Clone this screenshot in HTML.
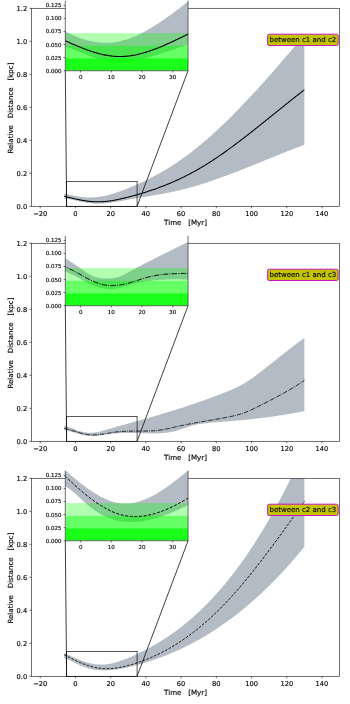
<!DOCTYPE html>
<html><head><meta charset="utf-8"><title>Relative distance</title>
<style>svg text{stroke:#000;stroke-width:0.14px}html,body{margin:0;padding:0;background:#fff}body{width:350px;height:704px;overflow:hidden}</style>
</head><body>
<svg width="350" height="704" viewBox="0 0 350 704" style="display:block;font-family:'DejaVu Sans','Liberation Sans',sans-serif">
<rect width="350" height="704" fill="#fff"/>
<defs>
<clipPath id="cm"><rect x="31.4" y="8.3" width="308.20000000000005" height="198.0"/></clipPath>
<clipPath id="ci"><rect x="65.3" y="0.77" width="122.75000000000001" height="69.98"/></clipPath>
</defs>
<g transform="translate(0,0)">
<g clip-path="url(#cm)">
<path d="M64.33,193.19 L65.04,193.41 L65.75,193.63 L66.45,193.84 L67.16,194.05 L67.86,194.25 L68.57,194.45 L69.28,194.64 L69.98,194.82 L70.69,195.00 L71.39,195.17 L72.10,195.34 L72.81,195.50 L73.51,195.66 L74.22,195.81 L74.92,195.95 L75.63,196.09 L76.34,196.22 L77.04,196.34 L77.75,196.46 L78.45,196.57 L79.16,196.68 L79.87,196.78 L80.57,196.87 L81.28,196.96 L81.98,197.04 L82.69,197.11 L83.40,197.18 L84.10,197.24 L84.81,197.29 L85.51,197.34 L86.22,197.38 L86.93,197.41 L87.63,197.44 L88.34,197.46 L89.04,197.47 L89.75,197.47 L90.46,197.47 L91.16,197.46 L91.87,197.45 L92.57,197.42 L93.28,197.39 L93.99,197.35 L94.69,197.31 L95.40,197.25 L96.10,197.19 L96.81,197.12 L97.52,197.05 L98.22,196.97 L98.93,196.87 L99.63,196.78 L100.34,196.67 L101.05,196.56 L101.75,196.44 L102.46,196.31 L103.16,196.18 L103.87,196.04 L104.58,195.89 L105.28,195.74 L105.99,195.58 L106.69,195.41 L107.40,195.24 L108.11,195.06 L108.81,194.88 L109.52,194.69 L110.22,194.50 L110.93,194.30 L111.64,194.09 L112.34,193.88 L113.05,193.67 L113.75,193.45 L114.46,193.23 L115.17,193.00 L115.87,192.77 L116.58,192.53 L117.28,192.29 L117.99,192.05 L118.70,191.80 L119.40,191.55 L120.11,191.30 L120.81,191.04 L121.52,190.78 L122.23,190.52 L122.93,190.25 L123.64,189.98 L124.34,189.71 L125.05,189.43 L125.76,189.16 L126.46,188.88 L127.17,188.60 L127.87,188.32 L128.58,188.03 L129.29,187.74 L129.99,187.45 L130.70,187.16 L131.40,186.87 L132.11,186.57 L132.82,186.28 L133.52,185.98 L134.23,185.68 L134.93,185.37 L135.64,185.06 L136.35,184.76 L137.05,184.44 L137.76,184.13 L138.46,183.82 L139.17,183.50 L139.88,183.18 L140.58,182.85 L141.29,182.53 L141.99,182.20 L142.70,181.87 L143.41,181.54 L144.11,181.20 L144.82,180.87 L145.52,180.53 L146.23,180.18 L146.94,179.84 L147.64,179.49 L148.35,179.14 L149.05,178.79 L149.76,178.43 L150.47,178.07 L151.17,177.71 L151.88,177.35 L152.58,176.98 L153.29,176.61 L154.00,176.24 L154.70,175.86 L155.41,175.49 L156.11,175.11 L156.82,174.72 L157.53,174.34 L158.23,173.95 L158.94,173.56 L159.64,173.16 L160.35,172.76 L161.06,172.36 L161.76,171.96 L162.47,171.55 L163.17,171.14 L163.88,170.73 L164.59,170.31 L165.29,169.90 L166.00,169.47 L166.70,169.05 L167.41,168.62 L168.12,168.19 L168.82,167.75 L169.53,167.32 L170.24,166.88 L170.94,166.43 L171.65,165.98 L172.35,165.53 L173.06,165.08 L173.77,164.62 L174.47,164.16 L175.18,163.70 L175.88,163.23 L176.59,162.76 L177.30,162.28 L178.00,161.81 L178.71,161.33 L179.41,160.84 L180.12,160.35 L180.83,159.86 L181.53,159.37 L182.24,158.87 L182.94,158.37 L183.65,157.86 L184.36,157.35 L185.06,156.84 L185.77,156.32 L186.47,155.80 L187.18,155.28 L187.89,154.75 L188.59,154.22 L189.30,153.69 L190.00,153.15 L190.71,152.61 L191.42,152.07 L192.12,151.52 L192.83,150.97 L193.53,150.41 L194.24,149.86 L194.95,149.30 L195.65,148.73 L196.36,148.17 L197.06,147.60 L197.77,147.02 L198.48,146.45 L199.18,145.87 L199.89,145.29 L200.59,144.70 L201.30,144.11 L202.01,143.52 L202.71,142.92 L203.42,142.33 L204.12,141.72 L204.83,141.12 L205.54,140.51 L206.24,139.90 L206.95,139.29 L207.65,138.67 L208.36,138.06 L209.07,137.43 L209.77,136.81 L210.48,136.18 L211.18,135.55 L211.89,134.92 L212.60,134.28 L213.30,133.65 L214.01,133.00 L214.71,132.36 L215.42,131.71 L216.13,131.06 L216.83,130.41 L217.54,129.76 L218.24,129.10 L218.95,128.44 L219.66,127.78 L220.36,127.11 L221.07,126.44 L221.77,125.77 L222.48,125.10 L223.19,124.43 L223.89,123.75 L224.60,123.07 L225.30,122.39 L226.01,121.70 L226.72,121.01 L227.42,120.32 L228.13,119.63 L228.83,118.94 L229.54,118.24 L230.25,117.54 L230.95,116.84 L231.66,116.13 L232.36,115.43 L233.07,114.72 L233.78,114.01 L234.48,113.30 L235.19,112.58 L235.89,111.86 L236.60,111.15 L237.31,110.42 L238.01,109.70 L238.72,108.98 L239.42,108.25 L240.13,107.52 L240.84,106.79 L241.54,106.05 L242.25,105.32 L242.95,104.58 L243.66,103.84 L244.37,103.10 L245.07,102.35 L245.78,101.61 L246.48,100.86 L247.19,100.11 L247.90,99.36 L248.60,98.61 L249.31,97.85 L250.01,97.10 L250.72,96.34 L251.43,95.58 L252.13,94.82 L252.84,94.06 L253.54,93.29 L254.25,92.52 L254.96,91.76 L255.66,90.99 L256.37,90.21 L257.07,89.44 L257.78,88.67 L258.49,87.89 L259.19,87.11 L259.90,86.33 L260.60,85.55 L261.31,84.77 L262.02,83.99 L262.72,83.20 L263.43,82.41 L264.13,81.63 L264.84,80.84 L265.55,80.05 L266.25,79.25 L266.96,78.46 L267.66,77.67 L268.37,76.87 L269.08,76.07 L269.78,75.27 L270.49,74.47 L271.19,73.67 L271.90,72.87 L272.61,72.07 L273.31,71.26 L274.02,70.46 L274.72,69.65 L275.43,68.84 L276.14,68.03 L276.84,67.22 L277.55,66.41 L278.25,65.60 L278.96,64.79 L279.67,63.97 L280.37,63.16 L281.08,62.34 L281.78,61.53 L282.49,60.71 L283.20,59.89 L283.90,59.07 L284.61,58.25 L285.31,57.43 L286.02,56.61 L286.73,55.78 L287.43,54.96 L288.14,54.14 L288.84,53.31 L289.55,52.49 L290.26,51.66 L290.96,50.83 L291.67,50.00 L292.37,49.18 L293.08,48.35 L293.79,47.52 L294.49,46.69 L295.20,45.86 L295.91,45.02 L296.61,44.19 L297.32,43.36 L298.02,42.53 L298.73,41.69 L299.44,40.86 L300.14,40.03 L300.85,39.19 L301.55,38.36 L302.26,37.52 L302.97,36.68 L303.67,35.85 L304.38,35.01 L304.38,144.82 L303.67,145.08 L302.97,145.34 L302.26,145.60 L301.55,145.86 L300.85,146.13 L300.14,146.39 L299.44,146.66 L298.73,146.93 L298.02,147.19 L297.32,147.46 L296.61,147.73 L295.91,148.00 L295.20,148.27 L294.49,148.54 L293.79,148.82 L293.08,149.09 L292.37,149.36 L291.67,149.64 L290.96,149.91 L290.26,150.19 L289.55,150.46 L288.84,150.74 L288.14,151.02 L287.43,151.30 L286.73,151.58 L286.02,151.86 L285.31,152.14 L284.61,152.42 L283.90,152.70 L283.20,152.98 L282.49,153.26 L281.78,153.54 L281.08,153.82 L280.37,154.11 L279.67,154.39 L278.96,154.67 L278.25,154.96 L277.55,155.24 L276.84,155.53 L276.14,155.81 L275.43,156.10 L274.72,156.38 L274.02,156.67 L273.31,156.96 L272.61,157.24 L271.90,157.53 L271.19,157.82 L270.49,158.10 L269.78,158.39 L269.08,158.68 L268.37,158.96 L267.66,159.25 L266.96,159.54 L266.25,159.83 L265.55,160.11 L264.84,160.40 L264.13,160.69 L263.43,160.98 L262.72,161.26 L262.02,161.55 L261.31,161.84 L260.60,162.13 L259.90,162.41 L259.19,162.70 L258.49,162.99 L257.78,163.28 L257.07,163.56 L256.37,163.85 L255.66,164.14 L254.96,164.42 L254.25,164.71 L253.54,164.99 L252.84,165.28 L252.13,165.57 L251.43,165.85 L250.72,166.13 L250.01,166.42 L249.31,166.70 L248.60,166.99 L247.90,167.27 L247.19,167.55 L246.48,167.84 L245.78,168.12 L245.07,168.40 L244.37,168.68 L243.66,168.96 L242.95,169.24 L242.25,169.52 L241.54,169.80 L240.84,170.08 L240.13,170.36 L239.42,170.63 L238.72,170.91 L238.01,171.19 L237.31,171.46 L236.60,171.74 L235.89,172.01 L235.19,172.29 L234.48,172.56 L233.78,172.83 L233.07,173.10 L232.36,173.37 L231.66,173.64 L230.95,173.91 L230.25,174.18 L229.54,174.45 L228.83,174.71 L228.13,174.98 L227.42,175.24 L226.72,175.51 L226.01,175.77 L225.30,176.03 L224.60,176.29 L223.89,176.55 L223.19,176.81 L222.48,177.07 L221.77,177.33 L221.07,177.59 L220.36,177.84 L219.66,178.10 L218.95,178.35 L218.24,178.60 L217.54,178.85 L216.83,179.10 L216.13,179.35 L215.42,179.60 L214.71,179.84 L214.01,180.09 L213.30,180.33 L212.60,180.57 L211.89,180.82 L211.18,181.06 L210.48,181.30 L209.77,181.53 L209.07,181.77 L208.36,182.00 L207.65,182.24 L206.95,182.47 L206.24,182.70 L205.54,182.93 L204.83,183.16 L204.12,183.38 L203.42,183.61 L202.71,183.83 L202.01,184.05 L201.30,184.28 L200.59,184.49 L199.89,184.71 L199.18,184.93 L198.48,185.14 L197.77,185.35 L197.06,185.57 L196.36,185.78 L195.65,185.98 L194.95,186.19 L194.24,186.39 L193.53,186.60 L192.83,186.80 L192.12,187.00 L191.42,187.20 L190.71,187.39 L190.00,187.59 L189.30,187.78 L188.59,187.97 L187.89,188.16 L187.18,188.34 L186.47,188.53 L185.77,188.71 L185.06,188.89 L184.36,189.07 L183.65,189.25 L182.94,189.43 L182.24,189.60 L181.53,189.77 L180.83,189.94 L180.12,190.11 L179.41,190.27 L178.71,190.44 L178.00,190.60 L177.30,190.76 L176.59,190.92 L175.88,191.08 L175.18,191.23 L174.47,191.39 L173.77,191.54 L173.06,191.69 L172.35,191.84 L171.65,191.99 L170.94,192.13 L170.24,192.28 L169.53,192.42 L168.82,192.56 L168.12,192.70 L167.41,192.84 L166.70,192.98 L166.00,193.12 L165.29,193.26 L164.59,193.39 L163.88,193.52 L163.17,193.66 L162.47,193.79 L161.76,193.92 L161.06,194.05 L160.35,194.18 L159.64,194.31 L158.94,194.43 L158.23,194.56 L157.53,194.69 L156.82,194.81 L156.11,194.94 L155.41,195.06 L154.70,195.18 L154.00,195.31 L153.29,195.43 L152.58,195.55 L151.88,195.67 L151.17,195.79 L150.47,195.91 L149.76,196.03 L149.05,196.15 L148.35,196.27 L147.64,196.39 L146.94,196.50 L146.23,196.62 L145.52,196.74 L144.82,196.86 L144.11,196.98 L143.41,197.09 L142.70,197.21 L141.99,197.33 L141.29,197.45 L140.58,197.56 L139.88,197.68 L139.17,197.80 L138.46,197.92 L137.76,198.04 L137.05,198.16 L136.35,198.27 L135.64,198.39 L134.93,198.51 L134.23,198.63 L133.52,198.75 L132.82,198.87 L132.11,199.00 L131.40,199.12 L130.70,199.24 L129.99,199.36 L129.29,199.49 L128.58,199.61 L127.87,199.74 L127.17,199.86 L126.46,199.99 L125.76,200.12 L125.05,200.24 L124.34,200.37 L123.64,200.50 L122.93,200.63 L122.23,200.76 L121.52,200.89 L120.81,201.01 L120.11,201.14 L119.40,201.27 L118.70,201.39 L117.99,201.51 L117.28,201.64 L116.58,201.76 L115.87,201.87 L115.17,201.99 L114.46,202.10 L113.75,202.22 L113.05,202.32 L112.34,202.43 L111.64,202.53 L110.93,202.63 L110.22,202.73 L109.52,202.82 L108.81,202.91 L108.11,202.99 L107.40,203.07 L106.69,203.14 L105.99,203.22 L105.28,203.28 L104.58,203.34 L103.87,203.40 L103.16,203.45 L102.46,203.49 L101.75,203.53 L101.05,203.56 L100.34,203.59 L99.63,203.61 L98.93,203.62 L98.22,203.63 L97.52,203.63 L96.81,203.62 L96.10,203.60 L95.40,203.58 L94.69,203.55 L93.99,203.52 L93.28,203.48 L92.57,203.43 L91.87,203.37 L91.16,203.31 L90.46,203.24 L89.75,203.17 L89.04,203.09 L88.34,203.00 L87.63,202.91 L86.93,202.81 L86.22,202.70 L85.51,202.59 L84.81,202.48 L84.10,202.35 L83.40,202.23 L82.69,202.09 L81.98,201.95 L81.28,201.81 L80.57,201.66 L79.87,201.50 L79.16,201.34 L78.45,201.18 L77.75,201.01 L77.04,200.85 L76.34,200.68 L75.63,200.51 L74.92,200.35 L74.22,200.18 L73.51,200.02 L72.81,199.87 L72.10,199.72 L71.39,199.57 L70.69,199.44 L69.98,199.31 L69.28,199.19 L68.57,199.07 L67.86,198.97 L67.16,198.89 L66.45,198.81 L65.75,198.75 L65.04,198.70 L64.33,198.67Z" fill="#b3bcc4"/>
<path d="M64.33,196.27 L65.04,196.45 L65.75,196.63 L66.45,196.81 L67.16,196.98 L67.86,197.16 L68.57,197.33 L69.28,197.50 L69.98,197.68 L70.69,197.85 L71.39,198.01 L72.10,198.18 L72.81,198.35 L73.51,198.51 L74.22,198.67 L74.92,198.83 L75.63,198.98 L76.34,199.14 L77.04,199.29 L77.75,199.44 L78.45,199.58 L79.16,199.72 L79.87,199.86 L80.57,199.99 L81.28,200.13 L81.98,200.25 L82.69,200.38 L83.40,200.50 L84.10,200.61 L84.81,200.72 L85.51,200.83 L86.22,200.93 L86.93,201.03 L87.63,201.12 L88.34,201.21 L89.04,201.29 L89.75,201.36 L90.46,201.43 L91.16,201.50 L91.87,201.56 L92.57,201.61 L93.28,201.66 L93.99,201.70 L94.69,201.74 L95.40,201.77 L96.10,201.79 L96.81,201.80 L97.52,201.81 L98.22,201.81 L98.93,201.81 L99.63,201.79 L100.34,201.77 L101.05,201.75 L101.75,201.71 L102.46,201.68 L103.16,201.63 L103.87,201.58 L104.58,201.52 L105.28,201.46 L105.99,201.39 L106.69,201.31 L107.40,201.23 L108.11,201.15 L108.81,201.06 L109.52,200.96 L110.22,200.86 L110.93,200.76 L111.64,200.65 L112.34,200.53 L113.05,200.42 L113.75,200.29 L114.46,200.17 L115.17,200.04 L115.87,199.90 L116.58,199.76 L117.28,199.62 L117.99,199.48 L118.70,199.33 L119.40,199.18 L120.11,199.02 L120.81,198.87 L121.52,198.71 L122.23,198.55 L122.93,198.38 L123.64,198.22 L124.34,198.05 L125.05,197.88 L125.76,197.70 L126.46,197.53 L127.17,197.35 L127.87,197.18 L128.58,197.00 L129.29,196.82 L129.99,196.63 L130.70,196.45 L131.40,196.27 L132.11,196.08 L132.82,195.89 L133.52,195.70 L134.23,195.51 L134.93,195.31 L135.64,195.12 L136.35,194.92 L137.05,194.72 L137.76,194.52 L138.46,194.32 L139.17,194.11 L139.88,193.91 L140.58,193.70 L141.29,193.49 L141.99,193.28 L142.70,193.06 L143.41,192.85 L144.11,192.63 L144.82,192.41 L145.52,192.19 L146.23,191.97 L146.94,191.74 L147.64,191.52 L148.35,191.29 L149.05,191.06 L149.76,190.82 L150.47,190.59 L151.17,190.35 L151.88,190.11 L152.58,189.87 L153.29,189.63 L154.00,189.38 L154.70,189.14 L155.41,188.89 L156.11,188.64 L156.82,188.38 L157.53,188.13 L158.23,187.87 L158.94,187.61 L159.64,187.35 L160.35,187.08 L161.06,186.81 L161.76,186.55 L162.47,186.27 L163.17,186.00 L163.88,185.72 L164.59,185.45 L165.29,185.17 L166.00,184.88 L166.70,184.60 L167.41,184.31 L168.12,184.02 L168.82,183.73 L169.53,183.43 L170.24,183.14 L170.94,182.84 L171.65,182.54 L172.35,182.23 L173.06,181.92 L173.77,181.61 L174.47,181.30 L175.18,180.99 L175.88,180.67 L176.59,180.35 L177.30,180.03 L178.00,179.71 L178.71,179.38 L179.41,179.05 L180.12,178.72 L180.83,178.38 L181.53,178.04 L182.24,177.70 L182.94,177.36 L183.65,177.02 L184.36,176.67 L185.06,176.32 L185.77,175.96 L186.47,175.61 L187.18,175.25 L187.89,174.89 L188.59,174.52 L189.30,174.15 L190.00,173.78 L190.71,173.41 L191.42,173.03 L192.12,172.66 L192.83,172.27 L193.53,171.89 L194.24,171.50 L194.95,171.11 L195.65,170.72 L196.36,170.32 L197.06,169.92 L197.77,169.52 L198.48,169.12 L199.18,168.71 L199.89,168.30 L200.59,167.88 L201.30,167.47 L202.01,167.05 L202.71,166.62 L203.42,166.20 L204.12,165.77 L204.83,165.34 L205.54,164.90 L206.24,164.47 L206.95,164.03 L207.65,163.58 L208.36,163.14 L209.07,162.69 L209.77,162.24 L210.48,161.79 L211.18,161.33 L211.89,160.87 L212.60,160.41 L213.30,159.95 L214.01,159.48 L214.71,159.02 L215.42,158.54 L216.13,158.07 L216.83,157.60 L217.54,157.12 L218.24,156.64 L218.95,156.16 L219.66,155.67 L220.36,155.19 L221.07,154.70 L221.77,154.21 L222.48,153.71 L223.19,153.22 L223.89,152.72 L224.60,152.22 L225.30,151.72 L226.01,151.22 L226.72,150.71 L227.42,150.20 L228.13,149.69 L228.83,149.18 L229.54,148.67 L230.25,148.16 L230.95,147.64 L231.66,147.12 L232.36,146.60 L233.07,146.08 L233.78,145.56 L234.48,145.03 L235.19,144.50 L235.89,143.98 L236.60,143.45 L237.31,142.92 L238.01,142.38 L238.72,141.85 L239.42,141.31 L240.13,140.78 L240.84,140.24 L241.54,139.70 L242.25,139.16 L242.95,138.62 L243.66,138.07 L244.37,137.53 L245.07,136.98 L245.78,136.44 L246.48,135.89 L247.19,135.34 L247.90,134.79 L248.60,134.24 L249.31,133.69 L250.01,133.13 L250.72,132.58 L251.43,132.02 L252.13,131.47 L252.84,130.91 L253.54,130.35 L254.25,129.79 L254.96,129.23 L255.66,128.67 L256.37,128.11 L257.07,127.55 L257.78,126.99 L258.49,126.42 L259.19,125.86 L259.90,125.30 L260.60,124.73 L261.31,124.17 L262.02,123.60 L262.72,123.03 L263.43,122.47 L264.13,121.90 L264.84,121.33 L265.55,120.77 L266.25,120.20 L266.96,119.63 L267.66,119.06 L268.37,118.49 L269.08,117.92 L269.78,117.35 L270.49,116.78 L271.19,116.21 L271.90,115.64 L272.61,115.07 L273.31,114.50 L274.02,113.93 L274.72,113.36 L275.43,112.79 L276.14,112.22 L276.84,111.65 L277.55,111.09 L278.25,110.52 L278.96,109.95 L279.67,109.38 L280.37,108.81 L281.08,108.24 L281.78,107.67 L282.49,107.11 L283.20,106.54 L283.90,105.97 L284.61,105.40 L285.31,104.84 L286.02,104.27 L286.73,103.71 L287.43,103.14 L288.14,102.58 L288.84,102.02 L289.55,101.45 L290.26,100.89 L290.96,100.33 L291.67,99.77 L292.37,99.21 L293.08,98.65 L293.79,98.09 L294.49,97.53 L295.20,96.98 L295.91,96.42 L296.61,95.87 L297.32,95.31 L298.02,94.76 L298.73,94.21 L299.44,93.66 L300.14,93.11 L300.85,92.56 L301.55,92.01 L302.26,91.46 L302.97,90.92 L303.67,90.37 L304.38,89.83" fill="none" stroke="#000" stroke-width="1.05"/>
</g>
<rect x="31.4" y="8.3" width="308.20000000000005" height="198.0" fill="none" stroke="#222" stroke-width="0.65"/>
<line x1="40.21" x2="40.21" y1="206.3" y2="208.3" stroke="#222" stroke-width="0.65"/>
<text x="40.21" y="215.60" font-size="6.7" text-anchor="middle" fill="#000">−20</text>
<line x1="75.43" x2="75.43" y1="206.3" y2="208.3" stroke="#222" stroke-width="0.65"/>
<text x="75.43" y="215.60" font-size="6.7" text-anchor="middle" fill="#000">0</text>
<line x1="110.65" x2="110.65" y1="206.3" y2="208.3" stroke="#222" stroke-width="0.65"/>
<text x="110.65" y="215.60" font-size="6.7" text-anchor="middle" fill="#000">20</text>
<line x1="145.87" x2="145.87" y1="206.3" y2="208.3" stroke="#222" stroke-width="0.65"/>
<text x="145.87" y="215.60" font-size="6.7" text-anchor="middle" fill="#000">40</text>
<line x1="181.10" x2="181.10" y1="206.3" y2="208.3" stroke="#222" stroke-width="0.65"/>
<text x="181.10" y="215.60" font-size="6.7" text-anchor="middle" fill="#000">60</text>
<line x1="216.32" x2="216.32" y1="206.3" y2="208.3" stroke="#222" stroke-width="0.65"/>
<text x="216.32" y="215.60" font-size="6.7" text-anchor="middle" fill="#000">80</text>
<line x1="251.54" x2="251.54" y1="206.3" y2="208.3" stroke="#222" stroke-width="0.65"/>
<text x="251.54" y="215.60" font-size="6.7" text-anchor="middle" fill="#000">100</text>
<line x1="286.77" x2="286.77" y1="206.3" y2="208.3" stroke="#222" stroke-width="0.65"/>
<text x="286.77" y="215.60" font-size="6.7" text-anchor="middle" fill="#000">120</text>
<line x1="321.99" x2="321.99" y1="206.3" y2="208.3" stroke="#222" stroke-width="0.65"/>
<text x="321.99" y="215.60" font-size="6.7" text-anchor="middle" fill="#000">140</text>
<line x1="29.4" x2="31.4" y1="206.30" y2="206.30" stroke="#222" stroke-width="0.65"/>
<text x="27.20" y="208.75" font-size="6.7" text-anchor="end" fill="#000">0.0</text>
<line x1="29.4" x2="31.4" y1="173.30" y2="173.30" stroke="#222" stroke-width="0.65"/>
<text x="27.20" y="175.75" font-size="6.7" text-anchor="end" fill="#000">0.2</text>
<line x1="29.4" x2="31.4" y1="140.30" y2="140.30" stroke="#222" stroke-width="0.65"/>
<text x="27.20" y="142.75" font-size="6.7" text-anchor="end" fill="#000">0.4</text>
<line x1="29.4" x2="31.4" y1="107.30" y2="107.30" stroke="#222" stroke-width="0.65"/>
<text x="27.20" y="109.75" font-size="6.7" text-anchor="end" fill="#000">0.6</text>
<line x1="29.4" x2="31.4" y1="74.30" y2="74.30" stroke="#222" stroke-width="0.65"/>
<text x="27.20" y="76.75" font-size="6.7" text-anchor="end" fill="#000">0.8</text>
<line x1="29.4" x2="31.4" y1="41.30" y2="41.30" stroke="#222" stroke-width="0.65"/>
<text x="27.20" y="43.75" font-size="6.7" text-anchor="end" fill="#000">1.0</text>
<line x1="29.4" x2="31.4" y1="8.30" y2="8.30" stroke="#222" stroke-width="0.65"/>
<text x="27.20" y="10.75" font-size="6.7" text-anchor="end" fill="#000">1.2</text>
<text x="185.50" y="224.60" font-size="7.08" text-anchor="middle" fill="#000" style="white-space:pre">Time   [Myr]</text>
<text transform="translate(13.0,108.10) rotate(-90)" font-size="7.08" text-anchor="middle" fill="#000" style="white-space:pre">Relative   Distance   [kpc]</text>
<rect x="66.62" y="181.55" width="70.45" height="24.75" fill="none" stroke="#000" stroke-width="0.65"/>
<rect x="65.3" y="0.77" width="122.75000000000001" height="69.98" fill="#fff"/>
<line x1="65.3" y1="70.75" x2="66.62" y2="206.30" stroke="#000" stroke-width="0.75"/>
<line x1="188.05" y1="70.75" x2="137.07" y2="206.30" stroke="#000" stroke-width="0.75"/>
<g clip-path="url(#ci)">
<path d="M61.31,29.19 L62.54,29.90 L63.77,30.59 L65.00,31.27 L66.23,31.92 L67.46,32.56 L68.69,33.18 L69.92,33.78 L71.15,34.37 L72.38,34.93 L73.61,35.48 L74.84,36.01 L76.07,36.52 L77.30,37.01 L78.53,37.49 L79.76,37.94 L80.99,38.38 L82.22,38.79 L83.45,39.19 L84.68,39.56 L85.91,39.92 L87.14,40.25 L88.38,40.57 L89.61,40.86 L90.84,41.14 L92.07,41.39 L93.30,41.62 L94.53,41.84 L95.76,42.03 L96.99,42.20 L98.22,42.34 L99.45,42.47 L100.68,42.57 L101.91,42.66 L103.14,42.72 L104.37,42.76 L105.60,42.77 L106.83,42.77 L108.06,42.74 L109.29,42.68 L110.52,42.61 L111.75,42.51 L112.98,42.39 L114.21,42.24 L115.44,42.08 L116.67,41.88 L117.90,41.67 L119.13,41.43 L120.36,41.16 L121.59,40.87 L122.82,40.56 L124.05,40.23 L125.28,39.87 L126.51,39.49 L127.74,39.08 L128.97,38.66 L130.20,38.21 L131.43,37.75 L132.66,37.26 L133.89,36.76 L135.12,36.23 L136.35,35.69 L137.58,35.13 L138.81,34.55 L140.04,33.95 L141.27,33.34 L142.50,32.71 L143.73,32.06 L144.96,31.40 L146.19,30.72 L147.43,30.03 L148.66,29.32 L149.89,28.60 L151.12,27.87 L152.35,27.12 L153.58,26.36 L154.81,25.59 L156.04,24.80 L157.27,24.01 L158.50,23.20 L159.73,22.38 L160.96,21.56 L162.19,20.72 L163.42,19.88 L164.65,19.02 L165.88,18.16 L167.11,17.29 L168.34,16.42 L169.57,15.53 L170.80,14.64 L172.03,13.74 L173.26,12.84 L174.49,11.93 L175.72,11.02 L176.95,10.09 L178.18,9.16 L179.41,8.23 L180.64,7.28 L181.87,6.33 L183.10,5.38 L184.33,4.41 L185.56,3.44 L186.79,2.46 L188.02,1.47 L189.25,0.48 L190.48,-0.52 L191.71,-1.53 L192.94,-2.54 L194.17,-3.57 L195.40,-4.60 L196.63,-5.64 L197.86,-6.68 L199.09,-7.74 L200.32,-8.80 L201.55,-9.87 L202.78,-10.95 L204.01,-12.03 L205.24,-13.13 L206.48,-14.23 L207.71,-15.34 L208.94,-16.46 L210.17,-17.59 L211.40,-18.72 L212.63,-19.87 L213.86,-21.02 L215.09,-22.18 L216.32,-23.35 L217.55,-24.53 L218.78,-25.72 L220.01,-26.92 L221.24,-28.12 L222.47,-29.34 L223.70,-30.56 L224.93,-31.79 L226.16,-33.04 L227.39,-34.29 L228.62,-35.55 L229.85,-36.82 L231.08,-38.10 L232.31,-39.39 L233.54,-40.69 L234.77,-41.99 L236.00,-43.31 L237.23,-44.64 L238.46,-45.98 L239.69,-47.32 L240.92,-48.68 L242.15,-50.05 L243.38,-51.43 L244.61,-52.81 L245.84,-54.21 L247.07,-55.62 L248.30,-57.04 L249.53,-58.47 L250.76,-59.91 L251.99,-61.36 L253.22,-62.82 L254.45,-64.29 L255.68,-65.77 L256.91,-67.26 L258.14,-68.76 L259.37,-70.28 L260.60,-71.80 L261.83,-73.34 L263.06,-74.89 L264.29,-76.44 L265.53,-78.01 L266.76,-79.59 L267.99,-81.19 L269.22,-82.79 L270.45,-84.40 L271.68,-86.03 L272.91,-87.67 L274.14,-89.32 L275.37,-90.97 L276.60,-92.64 L277.83,-94.33 L279.06,-96.02 L280.29,-97.72 L281.52,-99.43 L282.75,-101.16 L283.98,-102.89 L285.21,-104.63 L286.44,-106.39 L287.67,-108.16 L288.90,-109.93 L290.13,-111.72 L291.36,-113.51 L292.59,-115.32 L293.82,-117.14 L295.05,-118.97 L296.28,-120.80 L297.51,-122.65 L298.74,-124.51 L299.97,-126.37 L301.20,-128.25 L302.43,-130.13 L303.66,-132.03 L304.89,-133.93 L306.12,-135.85 L307.35,-137.77 L308.58,-139.71 L309.81,-141.65 L311.04,-143.60 L312.27,-145.56 L313.50,-147.53 L314.73,-149.51 L315.96,-151.50 L317.19,-153.50 L318.42,-155.50 L319.65,-157.52 L320.88,-159.54 L322.11,-161.58 L323.34,-163.62 L324.58,-165.67 L325.81,-167.72 L327.04,-169.79 L328.27,-171.87 L329.50,-173.95 L330.73,-176.04 L331.96,-178.14 L333.19,-180.25 L334.42,-182.37 L335.65,-184.49 L336.88,-186.62 L338.11,-188.76 L339.34,-190.91 L340.57,-193.07 L341.80,-195.23 L343.03,-197.40 L344.26,-199.58 L345.49,-201.77 L346.72,-203.96 L347.95,-206.17 L349.18,-208.38 L350.41,-210.59 L351.64,-212.82 L352.87,-215.05 L354.10,-217.29 L355.33,-219.53 L356.56,-221.78 L357.79,-224.04 L359.02,-226.31 L360.25,-228.58 L361.48,-230.86 L362.71,-233.15 L363.94,-235.44 L365.17,-237.74 L366.40,-240.05 L367.63,-242.36 L368.86,-244.68 L370.09,-247.00 L371.32,-249.34 L372.55,-251.67 L373.78,-254.02 L375.01,-256.37 L376.24,-258.73 L377.47,-261.09 L378.70,-263.46 L379.93,-265.83 L381.16,-268.21 L382.39,-270.60 L383.63,-272.99 L384.86,-275.39 L386.09,-277.79 L387.32,-280.20 L388.55,-282.61 L389.78,-285.03 L391.01,-287.46 L392.24,-289.89 L393.47,-292.32 L394.70,-294.76 L395.93,-297.21 L397.16,-299.66 L398.39,-302.11 L399.62,-304.57 L400.85,-307.04 L402.08,-309.51 L403.31,-311.98 L404.54,-314.46 L405.77,-316.95 L407.00,-319.44 L408.23,-321.93 L409.46,-324.43 L410.69,-326.93 L411.92,-329.44 L413.15,-331.95 L414.38,-334.46 L415.61,-336.98 L416.84,-339.50 L418.07,-342.03 L419.30,-344.56 L420.53,-347.10 L421.76,-349.64 L422.99,-352.18 L424.22,-354.72 L425.45,-357.27 L426.68,-359.83 L427.91,-362.38 L429.14,-364.95 L430.37,-367.51 L431.60,-370.08 L432.83,-372.65 L434.06,-375.22 L435.29,-377.80 L436.52,-380.38 L437.75,-382.96 L438.98,-385.55 L440.21,-388.14 L441.44,-390.73 L442.68,-393.32 L443.91,-395.92 L445.14,-398.52 L446.37,-401.13 L447.60,-403.73 L448.83,-406.34 L450.06,-408.95 L451.29,-411.56 L452.52,-414.18 L453.75,-416.80 L454.98,-419.41 L456.21,-422.04 L457.44,-424.66 L458.67,-427.29 L459.90,-429.91 L461.13,-432.54 L462.36,-435.18 L463.59,-437.81 L464.82,-440.45 L466.05,-443.08 L467.28,-445.72 L468.51,-448.36 L469.74,-451.00 L470.97,-453.65 L472.20,-456.29 L473.43,-458.94 L474.66,-461.58 L475.89,-464.23 L477.12,-466.88 L478.35,-469.53 L479.58,-472.18 L479.58,-124.14 L478.35,-123.31 L477.12,-122.48 L475.89,-121.65 L474.66,-120.82 L473.43,-119.98 L472.20,-119.14 L470.97,-118.29 L469.74,-117.45 L468.51,-116.60 L467.28,-115.75 L466.05,-114.90 L464.82,-114.04 L463.59,-113.18 L462.36,-112.32 L461.13,-111.46 L459.90,-110.59 L458.67,-109.72 L457.44,-108.85 L456.21,-107.98 L454.98,-107.11 L453.75,-106.23 L452.52,-105.35 L451.29,-104.47 L450.06,-103.59 L448.83,-102.71 L447.60,-101.82 L446.37,-100.94 L445.14,-100.05 L443.91,-99.16 L442.68,-98.27 L441.44,-97.37 L440.21,-96.48 L438.98,-95.58 L437.75,-94.69 L436.52,-93.79 L435.29,-92.89 L434.06,-91.99 L432.83,-91.09 L431.60,-90.18 L430.37,-89.28 L429.14,-88.37 L427.91,-87.47 L426.68,-86.56 L425.45,-85.66 L424.22,-84.75 L422.99,-83.84 L421.76,-82.93 L420.53,-82.02 L419.30,-81.11 L418.07,-80.20 L416.84,-79.29 L415.61,-78.38 L414.38,-77.47 L413.15,-76.56 L411.92,-75.65 L410.69,-74.73 L409.46,-73.82 L408.23,-72.91 L407.00,-72.00 L405.77,-71.09 L404.54,-70.18 L403.31,-69.26 L402.08,-68.35 L400.85,-67.44 L399.62,-66.53 L398.39,-65.62 L397.16,-64.71 L395.93,-63.80 L394.70,-62.90 L393.47,-61.99 L392.24,-61.08 L391.01,-60.18 L389.78,-59.27 L388.55,-58.37 L387.32,-57.46 L386.09,-56.56 L384.86,-55.66 L383.63,-54.76 L382.39,-53.86 L381.16,-52.96 L379.93,-52.07 L378.70,-51.17 L377.47,-50.28 L376.24,-49.38 L375.01,-48.49 L373.78,-47.60 L372.55,-46.72 L371.32,-45.83 L370.09,-44.94 L368.86,-44.06 L367.63,-43.18 L366.40,-42.30 L365.17,-41.42 L363.94,-40.55 L362.71,-39.67 L361.48,-38.80 L360.25,-37.93 L359.02,-37.07 L357.79,-36.20 L356.56,-35.34 L355.33,-34.48 L354.10,-33.62 L352.87,-32.77 L351.64,-31.91 L350.41,-31.06 L349.18,-30.21 L347.95,-29.37 L346.72,-28.53 L345.49,-27.69 L344.26,-26.85 L343.03,-26.02 L341.80,-25.19 L340.57,-24.36 L339.34,-23.53 L338.11,-22.71 L336.88,-21.89 L335.65,-21.08 L334.42,-20.26 L333.19,-19.46 L331.96,-18.65 L330.73,-17.85 L329.50,-17.05 L328.27,-16.25 L327.04,-15.46 L325.81,-14.67 L324.58,-13.89 L323.34,-13.11 L322.11,-12.33 L320.88,-11.56 L319.65,-10.79 L318.42,-10.03 L317.19,-9.26 L315.96,-8.51 L314.73,-7.76 L313.50,-7.01 L312.27,-6.26 L311.04,-5.52 L309.81,-4.79 L308.58,-4.05 L307.35,-3.33 L306.12,-2.61 L304.89,-1.89 L303.66,-1.17 L302.43,-0.47 L301.20,0.24 L299.97,0.94 L298.74,1.63 L297.51,2.32 L296.28,3.01 L295.05,3.69 L293.82,4.36 L292.59,5.03 L291.36,5.69 L290.13,6.35 L288.90,7.01 L287.67,7.66 L286.44,8.30 L285.21,8.94 L283.98,9.57 L282.75,10.20 L281.52,10.82 L280.29,11.43 L279.06,12.04 L277.83,12.65 L276.60,13.24 L275.37,13.84 L274.14,14.42 L272.91,15.00 L271.68,15.58 L270.45,16.15 L269.22,16.71 L267.99,17.27 L266.76,17.82 L265.53,18.36 L264.29,18.90 L263.06,19.43 L261.83,19.95 L260.60,20.47 L259.37,20.99 L258.14,21.50 L256.91,22.00 L255.68,22.50 L254.45,22.99 L253.22,23.48 L251.99,23.96 L250.76,24.44 L249.53,24.91 L248.30,25.38 L247.07,25.84 L245.84,26.30 L244.61,26.76 L243.38,27.21 L242.15,27.66 L240.92,28.10 L239.69,28.54 L238.46,28.97 L237.23,29.40 L236.00,29.83 L234.77,30.26 L233.54,30.68 L232.31,31.10 L231.08,31.51 L229.85,31.92 L228.62,32.33 L227.39,32.74 L226.16,33.14 L224.93,33.54 L223.70,33.94 L222.47,34.34 L221.24,34.73 L220.01,35.12 L218.78,35.51 L217.55,35.90 L216.32,36.29 L215.09,36.67 L213.86,37.05 L212.63,37.43 L211.40,37.81 L210.17,38.19 L208.94,38.57 L207.71,38.95 L206.48,39.32 L205.24,39.70 L204.01,40.07 L202.78,40.45 L201.55,40.82 L200.32,41.20 L199.09,41.57 L197.86,41.94 L196.63,42.31 L195.40,42.69 L194.17,43.06 L192.94,43.43 L191.71,43.81 L190.48,44.18 L189.25,44.56 L188.02,44.93 L186.79,45.31 L185.56,45.69 L184.33,46.07 L183.10,46.45 L181.87,46.83 L180.64,47.21 L179.41,47.60 L178.18,47.99 L176.95,48.37 L175.72,48.76 L174.49,49.16 L173.26,49.55 L172.03,49.95 L170.80,50.35 L169.57,50.75 L168.34,51.15 L167.11,51.56 L165.88,51.96 L164.65,52.37 L163.42,52.78 L162.19,53.19 L160.96,53.59 L159.73,54.00 L158.50,54.40 L157.27,54.80 L156.04,55.19 L154.81,55.58 L153.58,55.97 L152.35,56.35 L151.12,56.72 L149.89,57.09 L148.66,57.45 L147.43,57.80 L146.19,58.15 L144.96,58.48 L143.73,58.81 L142.50,59.12 L141.27,59.42 L140.04,59.71 L138.81,59.99 L137.58,60.26 L136.35,60.51 L135.12,60.75 L133.89,60.97 L132.66,61.18 L131.43,61.37 L130.20,61.55 L128.97,61.71 L127.74,61.85 L126.51,61.97 L125.28,62.07 L124.05,62.15 L122.82,62.22 L121.59,62.26 L120.36,62.28 L119.13,62.28 L117.90,62.25 L116.67,62.21 L115.44,62.14 L114.21,62.05 L112.98,61.94 L111.75,61.80 L110.52,61.65 L109.29,61.47 L108.06,61.28 L106.83,61.06 L105.60,60.83 L104.37,60.57 L103.14,60.30 L101.91,60.00 L100.68,59.69 L99.45,59.35 L98.22,59.00 L96.99,58.63 L95.76,58.24 L94.53,57.84 L93.30,57.41 L92.07,56.97 L90.84,56.51 L89.61,56.03 L88.38,55.54 L87.14,55.03 L85.91,54.52 L84.68,53.99 L83.45,53.46 L82.22,52.93 L80.99,52.40 L79.76,51.88 L78.53,51.36 L77.30,50.86 L76.07,50.36 L74.84,49.89 L73.61,49.43 L72.38,48.99 L71.15,48.58 L69.92,48.20 L68.69,47.85 L67.46,47.53 L66.23,47.25 L65.00,47.01 L63.77,46.81 L62.54,46.66 L61.31,46.56Z" fill="#b3bcc4"/>
<rect x="65.3" y="33.09" width="122.75000000000001" height="12.55" fill="#00ff00" fill-opacity="0.3"/>
<rect x="65.3" y="45.65" width="122.75000000000001" height="12.55" fill="#00ff00" fill-opacity="0.6"/>
<rect x="65.3" y="58.20" width="122.75000000000001" height="12.55" fill="#00ff00" fill-opacity="0.9"/>
<path d="M61.31,38.97 L62.54,39.53 L63.77,40.10 L65.00,40.66 L66.23,41.21 L67.46,41.77 L68.69,42.32 L69.92,42.87 L71.15,43.41 L72.38,43.95 L73.61,44.49 L74.84,45.02 L76.07,45.54 L77.30,46.05 L78.53,46.56 L79.76,47.07 L80.99,47.56 L82.22,48.05 L83.45,48.52 L84.68,48.99 L85.91,49.45 L87.14,49.90 L88.38,50.34 L89.61,50.76 L90.84,51.18 L92.07,51.58 L93.30,51.97 L94.53,52.35 L95.76,52.72 L96.99,53.07 L98.22,53.40 L99.45,53.73 L100.68,54.03 L101.91,54.33 L103.14,54.60 L104.37,54.86 L105.60,55.10 L106.83,55.33 L108.06,55.54 L109.29,55.72 L110.52,55.89 L111.75,56.05 L112.98,56.18 L114.21,56.29 L115.44,56.38 L116.67,56.45 L117.90,56.50 L119.13,56.52 L120.36,56.53 L121.59,56.51 L122.82,56.47 L124.05,56.40 L125.28,56.32 L126.51,56.22 L127.74,56.09 L128.97,55.95 L130.20,55.79 L131.43,55.60 L132.66,55.40 L133.89,55.18 L135.12,54.95 L136.35,54.69 L137.58,54.42 L138.81,54.14 L140.04,53.83 L141.27,53.52 L142.50,53.18 L143.73,52.84 L144.96,52.47 L146.19,52.10 L147.43,51.71 L148.66,51.31 L149.89,50.89 L151.12,50.47 L152.35,50.03 L153.58,49.58 L154.81,49.12 L156.04,48.66 L157.27,48.18 L158.50,47.69 L159.73,47.19 L160.96,46.69 L162.19,46.17 L163.42,45.65 L164.65,45.12 L165.88,44.59 L167.11,44.05 L168.34,43.50 L169.57,42.95 L170.80,42.39 L172.03,41.83 L173.26,41.26 L174.49,40.69 L175.72,40.11 L176.95,39.53 L178.18,38.94 L179.41,38.35 L180.64,37.75 L181.87,37.15 L183.10,36.54 L184.33,35.92 L185.56,35.31 L186.79,34.68 L188.02,34.05 L189.25,33.41 L190.48,32.77 L191.71,32.12 L192.94,31.47 L194.17,30.81 L195.40,30.15 L196.63,29.47 L197.86,28.80 L199.09,28.12 L200.32,27.43 L201.55,26.73 L202.78,26.03 L204.01,25.32 L205.24,24.61 L206.48,23.89 L207.71,23.17 L208.94,22.43 L210.17,21.70 L211.40,20.95 L212.63,20.20 L213.86,19.44 L215.09,18.68 L216.32,17.91 L217.55,17.13 L218.78,16.35 L220.01,15.56 L221.24,14.76 L222.47,13.96 L223.70,13.15 L224.93,12.33 L226.16,11.50 L227.39,10.67 L228.62,9.83 L229.85,8.99 L231.08,8.13 L232.31,7.27 L233.54,6.41 L234.77,5.53 L236.00,4.65 L237.23,3.76 L238.46,2.86 L239.69,1.96 L240.92,1.05 L242.15,0.13 L243.38,-0.80 L244.61,-1.73 L245.84,-2.67 L247.07,-3.62 L248.30,-4.58 L249.53,-5.54 L250.76,-6.51 L251.99,-7.49 L253.22,-8.48 L254.45,-9.48 L255.68,-10.48 L256.91,-11.50 L258.14,-12.52 L259.37,-13.54 L260.60,-14.58 L261.83,-15.63 L263.06,-16.68 L264.29,-17.74 L265.53,-18.81 L266.76,-19.89 L267.99,-20.98 L269.22,-22.07 L270.45,-23.17 L271.68,-24.29 L272.91,-25.41 L274.14,-26.54 L275.37,-27.68 L276.60,-28.82 L277.83,-29.98 L279.06,-31.14 L280.29,-32.32 L281.52,-33.50 L282.75,-34.69 L283.98,-35.89 L285.21,-37.10 L286.44,-38.32 L287.67,-39.55 L288.90,-40.78 L290.13,-42.03 L291.36,-43.29 L292.59,-44.55 L293.82,-45.82 L295.05,-47.11 L296.28,-48.40 L297.51,-49.70 L298.74,-51.02 L299.97,-52.34 L301.20,-53.67 L302.43,-55.01 L303.66,-56.36 L304.89,-57.72 L306.12,-59.09 L307.35,-60.46 L308.58,-61.85 L309.81,-63.24 L311.04,-64.64 L312.27,-66.06 L313.50,-67.48 L314.73,-68.90 L315.96,-70.34 L317.19,-71.78 L318.42,-73.24 L319.65,-74.70 L320.88,-76.17 L322.11,-77.64 L323.34,-79.13 L324.58,-80.62 L325.81,-82.12 L327.04,-83.63 L328.27,-85.14 L329.50,-86.66 L330.73,-88.19 L331.96,-89.73 L333.19,-91.27 L334.42,-92.82 L335.65,-94.37 L336.88,-95.94 L338.11,-97.51 L339.34,-99.08 L340.57,-100.67 L341.80,-102.26 L343.03,-103.85 L344.26,-105.45 L345.49,-107.06 L346.72,-108.68 L347.95,-110.29 L349.18,-111.92 L350.41,-113.55 L351.64,-115.19 L352.87,-116.83 L354.10,-118.48 L355.33,-120.13 L356.56,-121.79 L357.79,-123.45 L359.02,-125.12 L360.25,-126.80 L361.48,-128.47 L362.71,-130.16 L363.94,-131.85 L365.17,-133.54 L366.40,-135.23 L367.63,-136.94 L368.86,-138.64 L370.09,-140.35 L371.32,-142.07 L372.55,-143.78 L373.78,-145.51 L375.01,-147.23 L376.24,-148.96 L377.47,-150.70 L378.70,-152.43 L379.93,-154.17 L381.16,-155.92 L382.39,-157.67 L383.63,-159.42 L384.86,-161.17 L386.09,-162.93 L387.32,-164.69 L388.55,-166.45 L389.78,-168.22 L391.01,-169.99 L392.24,-171.76 L393.47,-173.53 L394.70,-175.31 L395.93,-177.08 L397.16,-178.86 L398.39,-180.65 L399.62,-182.43 L400.85,-184.22 L402.08,-186.01 L403.31,-187.80 L404.54,-189.59 L405.77,-191.38 L407.00,-193.18 L408.23,-194.97 L409.46,-196.77 L410.69,-198.57 L411.92,-200.37 L413.15,-202.17 L414.38,-203.97 L415.61,-205.77 L416.84,-207.58 L418.07,-209.38 L419.30,-211.19 L420.53,-212.99 L421.76,-214.80 L422.99,-216.60 L424.22,-218.41 L425.45,-220.22 L426.68,-222.02 L427.91,-223.83 L429.14,-225.63 L430.37,-227.44 L431.60,-229.25 L432.83,-231.05 L434.06,-232.86 L435.29,-234.66 L436.52,-236.46 L437.75,-238.27 L438.98,-240.07 L440.21,-241.87 L441.44,-243.67 L442.68,-245.47 L443.91,-247.26 L445.14,-249.06 L446.37,-250.85 L447.60,-252.65 L448.83,-254.44 L450.06,-256.23 L451.29,-258.01 L452.52,-259.80 L453.75,-261.58 L454.98,-263.36 L456.21,-265.14 L457.44,-266.92 L458.67,-268.70 L459.90,-270.47 L461.13,-272.24 L462.36,-274.01 L463.59,-275.77 L464.82,-277.53 L466.05,-279.29 L467.28,-281.05 L468.51,-282.80 L469.74,-284.55 L470.97,-286.30 L472.20,-288.04 L473.43,-289.78 L474.66,-291.51 L475.89,-293.25 L477.12,-294.97 L478.35,-296.70 L479.58,-298.42" fill="none" stroke="#000" stroke-width="1.1"/>
</g>
<path d="M65.3,0.77 L65.3,70.75 L188.05,70.75 L188.05,0.77" fill="none" stroke="#222" stroke-width="0.65"/>
<line x1="80.64" x2="80.64" y1="70.75" y2="72.45" stroke="#222" stroke-width="0.65"/>
<text x="80.64" y="78.95" font-size="5.5" text-anchor="middle" fill="#000">0</text>
<line x1="111.33" x2="111.33" y1="70.75" y2="72.45" stroke="#222" stroke-width="0.65"/>
<text x="111.33" y="78.95" font-size="5.5" text-anchor="middle" fill="#000">10</text>
<line x1="142.02" x2="142.02" y1="70.75" y2="72.45" stroke="#222" stroke-width="0.65"/>
<text x="142.02" y="78.95" font-size="5.5" text-anchor="middle" fill="#000">20</text>
<line x1="172.71" x2="172.71" y1="70.75" y2="72.45" stroke="#222" stroke-width="0.65"/>
<text x="172.71" y="78.95" font-size="5.5" text-anchor="middle" fill="#000">30</text>
<line x1="63.599999999999994" x2="65.3" y1="70.75" y2="70.75" stroke="#222" stroke-width="0.65"/>
<text x="61.40" y="72.72" font-size="5.5" text-anchor="end" fill="#000">0.000</text>
<line x1="63.599999999999994" x2="65.3" y1="57.67" y2="57.67" stroke="#222" stroke-width="0.65"/>
<text x="61.40" y="59.64" font-size="5.5" text-anchor="end" fill="#000">0.025</text>
<line x1="63.599999999999994" x2="65.3" y1="44.60" y2="44.60" stroke="#222" stroke-width="0.65"/>
<text x="61.40" y="46.57" font-size="5.5" text-anchor="end" fill="#000">0.050</text>
<line x1="63.599999999999994" x2="65.3" y1="31.52" y2="31.52" stroke="#222" stroke-width="0.65"/>
<text x="61.40" y="33.49" font-size="5.5" text-anchor="end" fill="#000">0.075</text>
<line x1="63.599999999999994" x2="65.3" y1="18.45" y2="18.45" stroke="#222" stroke-width="0.65"/>
<text x="61.40" y="20.42" font-size="5.5" text-anchor="end" fill="#000">0.100</text>
<line x1="63.599999999999994" x2="65.3" y1="5.38" y2="5.38" stroke="#222" stroke-width="0.65"/>
<text x="61.40" y="7.34" font-size="5.5" text-anchor="end" fill="#000">0.125</text>
<rect x="267.6" y="34.2" width="70.59999999999997" height="11.299999999999997" rx="1.6" ry="1.6" fill="#c4c400" stroke="#c400c4" stroke-width="0.9"/>
<text x="302.90" y="41.95" font-size="7.0" text-anchor="middle" fill="#000">between c1 and c2</text>
</g>
<g transform="translate(0,235)">
<g clip-path="url(#cm)">
<path d="M64.33,190.56 L65.04,190.79 L65.75,191.02 L66.45,191.25 L67.16,191.49 L67.86,191.73 L68.57,191.98 L69.28,192.23 L69.98,192.48 L70.69,192.73 L71.39,192.99 L72.10,193.25 L72.81,193.52 L73.51,193.79 L74.22,194.06 L74.92,194.33 L75.63,194.61 L76.34,194.89 L77.04,195.17 L77.75,195.44 L78.45,195.70 L79.16,195.95 L79.87,196.19 L80.57,196.41 L81.28,196.61 L81.98,196.79 L82.69,196.96 L83.40,197.10 L84.10,197.23 L84.81,197.34 L85.51,197.44 L86.22,197.52 L86.93,197.58 L87.63,197.64 L88.34,197.68 L89.04,197.70 L89.75,197.72 L90.46,197.72 L91.16,197.72 L91.87,197.70 L92.57,197.67 L93.28,197.64 L93.99,197.59 L94.69,197.53 L95.40,197.46 L96.10,197.37 L96.81,197.26 L97.52,197.14 L98.22,197.00 L98.93,196.84 L99.63,196.67 L100.34,196.48 L101.05,196.28 L101.75,196.08 L102.46,195.87 L103.16,195.66 L103.87,195.44 L104.58,195.23 L105.28,195.02 L105.99,194.81 L106.69,194.60 L107.40,194.39 L108.11,194.18 L108.81,193.98 L109.52,193.77 L110.22,193.57 L110.93,193.37 L111.64,193.16 L112.34,192.96 L113.05,192.76 L113.75,192.56 L114.46,192.36 L115.17,192.16 L115.87,191.97 L116.58,191.77 L117.28,191.57 L117.99,191.37 L118.70,191.18 L119.40,190.98 L120.11,190.79 L120.81,190.59 L121.52,190.40 L122.23,190.21 L122.93,190.01 L123.64,189.82 L124.34,189.63 L125.05,189.43 L125.76,189.24 L126.46,189.05 L127.17,188.86 L127.87,188.66 L128.58,188.47 L129.29,188.28 L129.99,188.09 L130.70,187.89 L131.40,187.70 L132.11,187.51 L132.82,187.31 L133.52,187.12 L134.23,186.93 L134.93,186.73 L135.64,186.54 L136.35,186.35 L137.05,186.15 L137.76,185.96 L138.46,185.76 L139.17,185.56 L139.88,185.37 L140.58,185.17 L141.29,184.97 L141.99,184.78 L142.70,184.58 L143.41,184.38 L144.11,184.18 L144.82,183.98 L145.52,183.78 L146.23,183.58 L146.94,183.38 L147.64,183.18 L148.35,182.98 L149.05,182.77 L149.76,182.57 L150.47,182.37 L151.17,182.16 L151.88,181.96 L152.58,181.75 L153.29,181.55 L154.00,181.34 L154.70,181.14 L155.41,180.93 L156.11,180.72 L156.82,180.51 L157.53,180.30 L158.23,180.10 L158.94,179.89 L159.64,179.68 L160.35,179.47 L161.06,179.25 L161.76,179.04 L162.47,178.83 L163.17,178.62 L163.88,178.40 L164.59,178.19 L165.29,177.97 L166.00,177.76 L166.70,177.54 L167.41,177.33 L168.12,177.11 L168.82,176.89 L169.53,176.68 L170.24,176.46 L170.94,176.24 L171.65,176.02 L172.35,175.80 L173.06,175.58 L173.77,175.35 L174.47,175.13 L175.18,174.91 L175.88,174.69 L176.59,174.46 L177.30,174.24 L178.00,174.01 L178.71,173.79 L179.41,173.56 L180.12,173.33 L180.83,173.10 L181.53,172.88 L182.24,172.65 L182.94,172.42 L183.65,172.19 L184.36,171.95 L185.06,171.72 L185.77,171.49 L186.47,171.26 L187.18,171.02 L187.89,170.79 L188.59,170.55 L189.30,170.32 L190.00,170.08 L190.71,169.84 L191.42,169.60 L192.12,169.36 L192.83,169.13 L193.53,168.89 L194.24,168.64 L194.95,168.40 L195.65,168.16 L196.36,167.92 L197.06,167.67 L197.77,167.43 L198.48,167.18 L199.18,166.94 L199.89,166.69 L200.59,166.44 L201.30,166.19 L202.01,165.94 L202.71,165.69 L203.42,165.44 L204.12,165.19 L204.83,164.94 L205.54,164.69 L206.24,164.43 L206.95,164.18 L207.65,163.92 L208.36,163.67 L209.07,163.41 L209.77,163.15 L210.48,162.89 L211.18,162.63 L211.89,162.37 L212.60,162.11 L213.30,161.85 L214.01,161.59 L214.71,161.33 L215.42,161.06 L216.13,160.80 L216.83,160.53 L217.54,160.26 L218.24,160.00 L218.95,159.73 L219.66,159.46 L220.36,159.19 L221.07,158.92 L221.77,158.64 L222.48,158.37 L223.19,158.10 L223.89,157.82 L224.60,157.55 L225.30,157.27 L226.01,156.99 L226.72,156.71 L227.42,156.43 L228.13,156.15 L228.83,155.86 L229.54,155.57 L230.25,155.28 L230.95,154.98 L231.66,154.68 L232.36,154.38 L233.07,154.07 L233.78,153.76 L234.48,153.44 L235.19,153.12 L235.89,152.79 L236.60,152.46 L237.31,152.12 L238.01,151.77 L238.72,151.42 L239.42,151.06 L240.13,150.70 L240.84,150.32 L241.54,149.94 L242.25,149.56 L242.95,149.16 L243.66,148.75 L244.37,148.34 L245.07,147.92 L245.78,147.49 L246.48,147.05 L247.19,146.60 L247.90,146.14 L248.60,145.67 L249.31,145.20 L250.01,144.72 L250.72,144.23 L251.43,143.73 L252.13,143.23 L252.84,142.72 L253.54,142.21 L254.25,141.69 L254.96,141.17 L255.66,140.64 L256.37,140.11 L257.07,139.58 L257.78,139.04 L258.49,138.50 L259.19,137.96 L259.90,137.41 L260.60,136.86 L261.31,136.31 L262.02,135.76 L262.72,135.21 L263.43,134.66 L264.13,134.11 L264.84,133.55 L265.55,133.00 L266.25,132.44 L266.96,131.89 L267.66,131.33 L268.37,130.77 L269.08,130.21 L269.78,129.65 L270.49,129.10 L271.19,128.54 L271.90,127.98 L272.61,127.41 L273.31,126.85 L274.02,126.29 L274.72,125.73 L275.43,125.17 L276.14,124.61 L276.84,124.05 L277.55,123.49 L278.25,122.93 L278.96,122.37 L279.67,121.81 L280.37,121.25 L281.08,120.69 L281.78,120.13 L282.49,119.57 L283.20,119.01 L283.90,118.46 L284.61,117.90 L285.31,117.35 L286.02,116.79 L286.73,116.24 L287.43,115.69 L288.14,115.13 L288.84,114.58 L289.55,114.03 L290.26,113.49 L290.96,112.94 L291.67,112.39 L292.37,111.85 L293.08,111.31 L293.79,110.77 L294.49,110.23 L295.20,109.69 L295.91,109.15 L296.61,108.62 L297.32,108.09 L298.02,107.56 L298.73,107.03 L299.44,106.50 L300.14,105.97 L300.85,105.45 L301.55,104.93 L302.26,104.41 L302.97,103.90 L303.67,103.38 L304.38,102.87 L304.38,176.04 L303.67,176.19 L302.97,176.34 L302.26,176.48 L301.55,176.62 L300.85,176.76 L300.14,176.91 L299.44,177.05 L298.73,177.18 L298.02,177.32 L297.32,177.46 L296.61,177.59 L295.91,177.73 L295.20,177.86 L294.49,177.99 L293.79,178.12 L293.08,178.25 L292.37,178.38 L291.67,178.50 L290.96,178.63 L290.26,178.75 L289.55,178.88 L288.84,179.00 L288.14,179.12 L287.43,179.24 L286.73,179.36 L286.02,179.48 L285.31,179.60 L284.61,179.72 L283.90,179.83 L283.20,179.94 L282.49,180.06 L281.78,180.17 L281.08,180.28 L280.37,180.39 L279.67,180.50 L278.96,180.61 L278.25,180.72 L277.55,180.82 L276.84,180.93 L276.14,181.03 L275.43,181.14 L274.72,181.24 L274.02,181.34 L273.31,181.44 L272.61,181.54 L271.90,181.64 L271.19,181.74 L270.49,181.84 L269.78,181.93 L269.08,182.03 L268.37,182.12 L267.66,182.22 L266.96,182.31 L266.25,182.40 L265.55,182.49 L264.84,182.58 L264.13,182.67 L263.43,182.76 L262.72,182.85 L262.02,182.94 L261.31,183.02 L260.60,183.11 L259.90,183.19 L259.19,183.28 L258.49,183.36 L257.78,183.44 L257.07,183.53 L256.37,183.61 L255.66,183.69 L254.96,183.77 L254.25,183.85 L253.54,183.92 L252.84,184.00 L252.13,184.08 L251.43,184.15 L250.72,184.23 L250.01,184.30 L249.31,184.38 L248.60,184.45 L247.90,184.52 L247.19,184.60 L246.48,184.67 L245.78,184.74 L245.07,184.81 L244.37,184.88 L243.66,184.95 L242.95,185.02 L242.25,185.08 L241.54,185.15 L240.84,185.22 L240.13,185.28 L239.42,185.35 L238.72,185.41 L238.01,185.48 L237.31,185.54 L236.60,185.61 L235.89,185.67 L235.19,185.73 L234.48,185.79 L233.78,185.86 L233.07,185.92 L232.36,185.98 L231.66,186.04 L230.95,186.10 L230.25,186.15 L229.54,186.21 L228.83,186.27 L228.13,186.33 L227.42,186.39 L226.72,186.44 L226.01,186.50 L225.30,186.56 L224.60,186.61 L223.89,186.67 L223.19,186.72 L222.48,186.78 L221.77,186.83 L221.07,186.88 L220.36,186.94 L219.66,186.99 L218.95,187.05 L218.24,187.10 L217.54,187.16 L216.83,187.21 L216.13,187.27 L215.42,187.32 L214.71,187.38 L214.01,187.44 L213.30,187.50 L212.60,187.56 L211.89,187.62 L211.18,187.68 L210.48,187.74 L209.77,187.81 L209.07,187.87 L208.36,187.94 L207.65,188.01 L206.95,188.08 L206.24,188.15 L205.54,188.23 L204.83,188.31 L204.12,188.39 L203.42,188.48 L202.71,188.57 L202.01,188.66 L201.30,188.76 L200.59,188.86 L199.89,188.97 L199.18,189.09 L198.48,189.21 L197.77,189.34 L197.06,189.47 L196.36,189.61 L195.65,189.76 L194.95,189.92 L194.24,190.09 L193.53,190.26 L192.83,190.44 L192.12,190.64 L191.42,190.84 L190.71,191.05 L190.00,191.27 L189.30,191.49 L188.59,191.72 L187.89,191.95 L187.18,192.19 L186.47,192.43 L185.77,192.68 L185.06,192.92 L184.36,193.17 L183.65,193.41 L182.94,193.66 L182.24,193.90 L181.53,194.14 L180.83,194.38 L180.12,194.61 L179.41,194.84 L178.71,195.06 L178.00,195.28 L177.30,195.49 L176.59,195.68 L175.88,195.88 L175.18,196.06 L174.47,196.23 L173.77,196.40 L173.06,196.55 L172.35,196.70 L171.65,196.84 L170.94,196.98 L170.24,197.11 L169.53,197.23 L168.82,197.34 L168.12,197.44 L167.41,197.54 L166.70,197.64 L166.00,197.72 L165.29,197.80 L164.59,197.88 L163.88,197.95 L163.17,198.01 L162.47,198.07 L161.76,198.12 L161.06,198.17 L160.35,198.21 L159.64,198.25 L158.94,198.28 L158.23,198.31 L157.53,198.33 L156.82,198.35 L156.11,198.37 L155.41,198.39 L154.70,198.40 L154.00,198.40 L153.29,198.41 L152.58,198.41 L151.88,198.41 L151.17,198.40 L150.47,198.39 L149.76,198.39 L149.05,198.37 L148.35,198.36 L147.64,198.35 L146.94,198.33 L146.23,198.32 L145.52,198.30 L144.82,198.28 L144.11,198.26 L143.41,198.24 L142.70,198.22 L141.99,198.20 L141.29,198.18 L140.58,198.16 L139.88,198.14 L139.17,198.12 L138.46,198.10 L137.76,198.08 L137.05,198.06 L136.35,198.04 L135.64,198.03 L134.93,198.02 L134.23,198.01 L133.52,197.99 L132.82,197.99 L132.11,197.98 L131.40,197.97 L130.70,197.97 L129.99,197.97 L129.29,197.97 L128.58,197.97 L127.87,197.97 L127.17,197.98 L126.46,197.99 L125.76,198.00 L125.05,198.01 L124.34,198.02 L123.64,198.04 L122.93,198.06 L122.23,198.08 L121.52,198.11 L120.81,198.13 L120.11,198.16 L119.40,198.19 L118.70,198.23 L117.99,198.27 L117.28,198.31 L116.58,198.35 L115.87,198.40 L115.17,198.45 L114.46,198.50 L113.75,198.56 L113.05,198.62 L112.34,198.68 L111.64,198.75 L110.93,198.82 L110.22,198.89 L109.52,198.97 L108.81,199.05 L108.11,199.14 L107.40,199.23 L106.69,199.32 L105.99,199.41 L105.28,199.51 L104.58,199.62 L103.87,199.73 L103.16,199.84 L102.46,199.96 L101.75,200.07 L101.05,200.19 L100.34,200.31 L99.63,200.42 L98.93,200.53 L98.22,200.63 L97.52,200.73 L96.81,200.81 L96.10,200.89 L95.40,200.95 L94.69,201.00 L93.99,201.04 L93.28,201.07 L92.57,201.08 L91.87,201.07 L91.16,201.05 L90.46,201.01 L89.75,200.96 L89.04,200.89 L88.34,200.82 L87.63,200.74 L86.93,200.64 L86.22,200.54 L85.51,200.43 L84.81,200.32 L84.10,200.19 L83.40,200.06 L82.69,199.92 L81.98,199.76 L81.28,199.59 L80.57,199.41 L79.87,199.22 L79.16,199.01 L78.45,198.80 L77.75,198.58 L77.04,198.35 L76.34,198.13 L75.63,197.91 L74.92,197.69 L74.22,197.48 L73.51,197.28 L72.81,197.08 L72.10,196.89 L71.39,196.70 L70.69,196.52 L69.98,196.34 L69.28,196.17 L68.57,196.00 L67.86,195.83 L67.16,195.66 L66.45,195.50 L65.75,195.34 L65.04,195.18 L64.33,195.02Z" fill="#b3bcc4"/>
<path d="M64.33,193.46 L65.04,193.63 L65.75,193.79 L66.45,193.97 L67.16,194.15 L67.86,194.33 L68.57,194.51 L69.28,194.71 L69.98,194.90 L70.69,195.10 L71.39,195.30 L72.10,195.50 L72.81,195.71 L73.51,195.92 L74.22,196.13 L74.92,196.34 L75.63,196.56 L76.34,196.77 L77.04,196.99 L77.75,197.20 L78.45,197.41 L79.16,197.62 L79.87,197.83 L80.57,198.03 L81.28,198.22 L81.98,198.41 L82.69,198.59 L83.40,198.76 L84.10,198.93 L84.81,199.08 L85.51,199.22 L86.22,199.35 L86.93,199.46 L87.63,199.56 L88.34,199.65 L89.04,199.73 L89.75,199.79 L90.46,199.84 L91.16,199.88 L91.87,199.91 L92.57,199.92 L93.28,199.93 L93.99,199.93 L94.69,199.92 L95.40,199.89 L96.10,199.86 L96.81,199.82 L97.52,199.77 L98.22,199.72 L98.93,199.65 L99.63,199.58 L100.34,199.50 L101.05,199.41 L101.75,199.32 L102.46,199.22 L103.16,199.12 L103.87,199.01 L104.58,198.90 L105.28,198.78 L105.99,198.66 L106.69,198.54 L107.40,198.42 L108.11,198.29 L108.81,198.16 L109.52,198.04 L110.22,197.91 L110.93,197.79 L111.64,197.67 L112.34,197.55 L113.05,197.44 L113.75,197.33 L114.46,197.23 L115.17,197.13 L115.87,197.04 L116.58,196.95 L117.28,196.87 L117.99,196.80 L118.70,196.73 L119.40,196.67 L120.11,196.61 L120.81,196.56 L121.52,196.51 L122.23,196.46 L122.93,196.42 L123.64,196.38 L124.34,196.35 L125.05,196.31 L125.76,196.28 L126.46,196.26 L127.17,196.23 L127.87,196.21 L128.58,196.19 L129.29,196.18 L129.99,196.16 L130.70,196.15 L131.40,196.14 L132.11,196.13 L132.82,196.12 L133.52,196.11 L134.23,196.11 L134.93,196.10 L135.64,196.10 L136.35,196.10 L137.05,196.09 L137.76,196.09 L138.46,196.09 L139.17,196.09 L139.88,196.09 L140.58,196.09 L141.29,196.08 L141.99,196.08 L142.70,196.07 L143.41,196.07 L144.11,196.06 L144.82,196.05 L145.52,196.04 L146.23,196.03 L146.94,196.02 L147.64,196.00 L148.35,195.98 L149.05,195.96 L149.76,195.93 L150.47,195.90 L151.17,195.87 L151.88,195.83 L152.58,195.79 L153.29,195.75 L154.00,195.70 L154.70,195.65 L155.41,195.59 L156.11,195.53 L156.82,195.46 L157.53,195.39 L158.23,195.31 L158.94,195.23 L159.64,195.14 L160.35,195.04 L161.06,194.94 L161.76,194.83 L162.47,194.72 L163.17,194.60 L163.88,194.47 L164.59,194.34 L165.29,194.20 L166.00,194.06 L166.70,193.92 L167.41,193.77 L168.12,193.62 L168.82,193.47 L169.53,193.31 L170.24,193.15 L170.94,192.99 L171.65,192.83 L172.35,192.67 L173.06,192.50 L173.77,192.34 L174.47,192.18 L175.18,192.01 L175.88,191.85 L176.59,191.69 L177.30,191.53 L178.00,191.37 L178.71,191.21 L179.41,191.06 L180.12,190.91 L180.83,190.75 L181.53,190.60 L182.24,190.45 L182.94,190.31 L183.65,190.16 L184.36,190.01 L185.06,189.87 L185.77,189.73 L186.47,189.59 L187.18,189.45 L187.89,189.31 L188.59,189.17 L189.30,189.03 L190.00,188.90 L190.71,188.76 L191.42,188.63 L192.12,188.50 L192.83,188.36 L193.53,188.23 L194.24,188.10 L194.95,187.97 L195.65,187.84 L196.36,187.72 L197.06,187.59 L197.77,187.46 L198.48,187.33 L199.18,187.21 L199.89,187.08 L200.59,186.96 L201.30,186.83 L202.01,186.71 L202.71,186.59 L203.42,186.46 L204.12,186.34 L204.83,186.22 L205.54,186.09 L206.24,185.97 L206.95,185.85 L207.65,185.73 L208.36,185.60 L209.07,185.48 L209.77,185.36 L210.48,185.24 L211.18,185.11 L211.89,184.99 L212.60,184.87 L213.30,184.75 L214.01,184.62 L214.71,184.50 L215.42,184.37 L216.13,184.25 L216.83,184.13 L217.54,184.00 L218.24,183.87 L218.95,183.75 L219.66,183.62 L220.36,183.49 L221.07,183.37 L221.77,183.24 L222.48,183.11 L223.19,182.98 L223.89,182.85 L224.60,182.72 L225.30,182.58 L226.01,182.45 L226.72,182.31 L227.42,182.18 L228.13,182.04 L228.83,181.90 L229.54,181.75 L230.25,181.61 L230.95,181.46 L231.66,181.30 L232.36,181.15 L233.07,180.99 L233.78,180.82 L234.48,180.65 L235.19,180.48 L235.89,180.30 L236.60,180.12 L237.31,179.93 L238.01,179.74 L238.72,179.54 L239.42,179.34 L240.13,179.13 L240.84,178.91 L241.54,178.69 L242.25,178.46 L242.95,178.22 L243.66,177.98 L244.37,177.72 L245.07,177.46 L245.78,177.20 L246.48,176.92 L247.19,176.64 L247.90,176.35 L248.60,176.05 L249.31,175.74 L250.01,175.43 L250.72,175.12 L251.43,174.80 L252.13,174.47 L252.84,174.14 L253.54,173.80 L254.25,173.47 L254.96,173.12 L255.66,172.78 L256.37,172.43 L257.07,172.08 L257.78,171.72 L258.49,171.37 L259.19,171.01 L259.90,170.65 L260.60,170.30 L261.31,169.94 L262.02,169.58 L262.72,169.22 L263.43,168.86 L264.13,168.50 L264.84,168.14 L265.55,167.78 L266.25,167.42 L266.96,167.06 L267.66,166.70 L268.37,166.34 L269.08,165.97 L269.78,165.61 L270.49,165.24 L271.19,164.88 L271.90,164.51 L272.61,164.14 L273.31,163.77 L274.02,163.40 L274.72,163.03 L275.43,162.66 L276.14,162.28 L276.84,161.91 L277.55,161.53 L278.25,161.15 L278.96,160.77 L279.67,160.39 L280.37,160.00 L281.08,159.62 L281.78,159.23 L282.49,158.84 L283.20,158.44 L283.90,158.05 L284.61,157.65 L285.31,157.25 L286.02,156.85 L286.73,156.45 L287.43,156.04 L288.14,155.63 L288.84,155.22 L289.55,154.81 L290.26,154.39 L290.96,153.97 L291.67,153.54 L292.37,153.12 L293.08,152.69 L293.79,152.26 L294.49,151.82 L295.20,151.38 L295.91,150.94 L296.61,150.50 L297.32,150.05 L298.02,149.60 L298.73,149.14 L299.44,148.68 L300.14,148.22 L300.85,147.75 L301.55,147.28 L302.26,146.80 L302.97,146.32 L303.67,145.84 L304.38,145.35" fill="none" stroke="#000" stroke-width="0.9" stroke-dasharray="4.4,1.1,0.7,1.1"/>
</g>
<rect x="31.4" y="8.3" width="308.20000000000005" height="198.0" fill="none" stroke="#222" stroke-width="0.65"/>
<line x1="40.21" x2="40.21" y1="206.3" y2="208.3" stroke="#222" stroke-width="0.65"/>
<text x="40.21" y="215.60" font-size="6.7" text-anchor="middle" fill="#000">−20</text>
<line x1="75.43" x2="75.43" y1="206.3" y2="208.3" stroke="#222" stroke-width="0.65"/>
<text x="75.43" y="215.60" font-size="6.7" text-anchor="middle" fill="#000">0</text>
<line x1="110.65" x2="110.65" y1="206.3" y2="208.3" stroke="#222" stroke-width="0.65"/>
<text x="110.65" y="215.60" font-size="6.7" text-anchor="middle" fill="#000">20</text>
<line x1="145.87" x2="145.87" y1="206.3" y2="208.3" stroke="#222" stroke-width="0.65"/>
<text x="145.87" y="215.60" font-size="6.7" text-anchor="middle" fill="#000">40</text>
<line x1="181.10" x2="181.10" y1="206.3" y2="208.3" stroke="#222" stroke-width="0.65"/>
<text x="181.10" y="215.60" font-size="6.7" text-anchor="middle" fill="#000">60</text>
<line x1="216.32" x2="216.32" y1="206.3" y2="208.3" stroke="#222" stroke-width="0.65"/>
<text x="216.32" y="215.60" font-size="6.7" text-anchor="middle" fill="#000">80</text>
<line x1="251.54" x2="251.54" y1="206.3" y2="208.3" stroke="#222" stroke-width="0.65"/>
<text x="251.54" y="215.60" font-size="6.7" text-anchor="middle" fill="#000">100</text>
<line x1="286.77" x2="286.77" y1="206.3" y2="208.3" stroke="#222" stroke-width="0.65"/>
<text x="286.77" y="215.60" font-size="6.7" text-anchor="middle" fill="#000">120</text>
<line x1="321.99" x2="321.99" y1="206.3" y2="208.3" stroke="#222" stroke-width="0.65"/>
<text x="321.99" y="215.60" font-size="6.7" text-anchor="middle" fill="#000">140</text>
<line x1="29.4" x2="31.4" y1="206.30" y2="206.30" stroke="#222" stroke-width="0.65"/>
<text x="27.20" y="208.75" font-size="6.7" text-anchor="end" fill="#000">0.0</text>
<line x1="29.4" x2="31.4" y1="173.30" y2="173.30" stroke="#222" stroke-width="0.65"/>
<text x="27.20" y="175.75" font-size="6.7" text-anchor="end" fill="#000">0.2</text>
<line x1="29.4" x2="31.4" y1="140.30" y2="140.30" stroke="#222" stroke-width="0.65"/>
<text x="27.20" y="142.75" font-size="6.7" text-anchor="end" fill="#000">0.4</text>
<line x1="29.4" x2="31.4" y1="107.30" y2="107.30" stroke="#222" stroke-width="0.65"/>
<text x="27.20" y="109.75" font-size="6.7" text-anchor="end" fill="#000">0.6</text>
<line x1="29.4" x2="31.4" y1="74.30" y2="74.30" stroke="#222" stroke-width="0.65"/>
<text x="27.20" y="76.75" font-size="6.7" text-anchor="end" fill="#000">0.8</text>
<line x1="29.4" x2="31.4" y1="41.30" y2="41.30" stroke="#222" stroke-width="0.65"/>
<text x="27.20" y="43.75" font-size="6.7" text-anchor="end" fill="#000">1.0</text>
<line x1="29.4" x2="31.4" y1="8.30" y2="8.30" stroke="#222" stroke-width="0.65"/>
<text x="27.20" y="10.75" font-size="6.7" text-anchor="end" fill="#000">1.2</text>
<text x="185.50" y="224.60" font-size="7.08" text-anchor="middle" fill="#000" style="white-space:pre">Time   [Myr]</text>
<text transform="translate(13.0,108.10) rotate(-90)" font-size="7.08" text-anchor="middle" fill="#000" style="white-space:pre">Relative   Distance   [kpc]</text>
<rect x="66.62" y="181.55" width="70.45" height="24.75" fill="none" stroke="#000" stroke-width="0.65"/>
<rect x="65.3" y="0.77" width="122.75000000000001" height="69.98" fill="#fff"/>
<line x1="65.3" y1="70.75" x2="66.62" y2="206.30" stroke="#000" stroke-width="0.75"/>
<line x1="188.05" y1="70.75" x2="137.07" y2="206.30" stroke="#000" stroke-width="0.75"/>
<g clip-path="url(#ci)">
<path d="M61.31,20.87 L62.54,21.59 L63.77,22.32 L65.00,23.06 L66.23,23.81 L67.46,24.58 L68.69,25.36 L69.92,26.14 L71.15,26.94 L72.38,27.75 L73.61,28.57 L74.84,29.40 L76.07,30.24 L77.30,31.09 L78.53,31.95 L79.76,32.82 L80.99,33.70 L82.22,34.58 L83.45,35.46 L84.68,36.32 L85.91,37.15 L87.14,37.95 L88.38,38.70 L89.61,39.40 L90.84,40.04 L92.07,40.62 L93.30,41.14 L94.53,41.60 L95.76,42.00 L96.99,42.36 L98.22,42.66 L99.45,42.92 L100.68,43.13 L101.91,43.29 L103.14,43.42 L104.37,43.51 L105.60,43.55 L106.83,43.57 L108.06,43.55 L109.29,43.49 L110.52,43.41 L111.75,43.29 L112.98,43.14 L114.21,42.95 L115.44,42.72 L116.67,42.43 L117.90,42.10 L119.13,41.71 L120.36,41.27 L121.59,40.77 L122.82,40.22 L124.05,39.63 L125.28,39.00 L126.51,38.35 L127.74,37.69 L128.97,37.01 L130.20,36.33 L131.43,35.66 L132.66,34.99 L133.89,34.33 L135.12,33.66 L136.35,33.00 L137.58,32.35 L138.81,31.69 L140.04,31.04 L141.27,30.40 L142.50,29.75 L143.73,29.11 L144.96,28.47 L146.19,27.84 L147.43,27.20 L148.66,26.57 L149.89,25.94 L151.12,25.31 L152.35,24.69 L153.58,24.06 L154.81,23.44 L156.04,22.82 L157.27,22.20 L158.50,21.58 L159.73,20.97 L160.96,20.35 L162.19,19.74 L163.42,19.12 L164.65,18.51 L165.88,17.90 L167.11,17.29 L168.34,16.68 L169.57,16.07 L170.80,15.46 L172.03,14.85 L173.26,14.24 L174.49,13.63 L175.72,13.02 L176.95,12.41 L178.18,11.80 L179.41,11.18 L180.64,10.57 L181.87,9.96 L183.10,9.35 L184.33,8.73 L185.56,8.12 L186.79,7.50 L188.02,6.89 L189.25,6.27 L190.48,5.65 L191.71,5.02 L192.94,4.40 L194.17,3.78 L195.40,3.15 L196.63,2.53 L197.86,1.90 L199.09,1.27 L200.32,0.64 L201.55,0.00 L202.78,-0.63 L204.01,-1.27 L205.24,-1.90 L206.48,-2.54 L207.71,-3.18 L208.94,-3.82 L210.17,-4.47 L211.40,-5.11 L212.63,-5.76 L213.86,-6.41 L215.09,-7.06 L216.32,-7.71 L217.55,-8.36 L218.78,-9.01 L220.01,-9.67 L221.24,-10.33 L222.47,-10.99 L223.70,-11.65 L224.93,-12.31 L226.16,-12.97 L227.39,-13.64 L228.62,-14.31 L229.85,-14.98 L231.08,-15.65 L232.31,-16.32 L233.54,-17.00 L234.77,-17.67 L236.00,-18.35 L237.23,-19.03 L238.46,-19.71 L239.69,-20.40 L240.92,-21.08 L242.15,-21.77 L243.38,-22.46 L244.61,-23.15 L245.84,-23.84 L247.07,-24.54 L248.30,-25.24 L249.53,-25.93 L250.76,-26.63 L251.99,-27.34 L253.22,-28.04 L254.45,-28.75 L255.68,-29.46 L256.91,-30.17 L258.14,-30.88 L259.37,-31.59 L260.60,-32.31 L261.83,-33.03 L263.06,-33.75 L264.29,-34.47 L265.53,-35.20 L266.76,-35.92 L267.99,-36.65 L269.22,-37.38 L270.45,-38.12 L271.68,-38.85 L272.91,-39.59 L274.14,-40.33 L275.37,-41.07 L276.60,-41.81 L277.83,-42.56 L279.06,-43.31 L280.29,-44.06 L281.52,-44.81 L282.75,-45.57 L283.98,-46.32 L285.21,-47.08 L286.44,-47.84 L287.67,-48.61 L288.90,-49.37 L290.13,-50.14 L291.36,-50.91 L292.59,-51.69 L293.82,-52.46 L295.05,-53.24 L296.28,-54.02 L297.51,-54.80 L298.74,-55.59 L299.97,-56.38 L301.20,-57.16 L302.43,-57.96 L303.66,-58.75 L304.89,-59.55 L306.12,-60.35 L307.35,-61.15 L308.58,-61.95 L309.81,-62.76 L311.04,-63.57 L312.27,-64.38 L313.50,-65.20 L314.73,-66.02 L315.96,-66.83 L317.19,-67.66 L318.42,-68.48 L319.65,-69.31 L320.88,-70.14 L322.11,-70.97 L323.34,-71.81 L324.58,-72.64 L325.81,-73.49 L327.04,-74.33 L328.27,-75.17 L329.50,-76.02 L330.73,-76.87 L331.96,-77.73 L333.19,-78.58 L334.42,-79.44 L335.65,-80.31 L336.88,-81.17 L338.11,-82.04 L339.34,-82.91 L340.57,-83.78 L341.80,-84.66 L343.03,-85.54 L344.26,-86.43 L345.49,-87.32 L346.72,-88.22 L347.95,-89.13 L349.18,-90.05 L350.41,-90.97 L351.64,-91.91 L352.87,-92.86 L354.10,-93.83 L355.33,-94.80 L356.56,-95.79 L357.79,-96.80 L359.02,-97.82 L360.25,-98.86 L361.48,-99.91 L362.71,-100.99 L363.94,-102.08 L365.17,-103.20 L366.40,-104.33 L367.63,-105.49 L368.86,-106.67 L370.09,-107.88 L371.32,-109.11 L372.55,-110.37 L373.78,-111.65 L375.01,-112.96 L376.24,-114.30 L377.47,-115.67 L378.70,-117.07 L379.93,-118.50 L381.16,-119.95 L382.39,-121.43 L383.63,-122.93 L384.86,-124.46 L386.09,-126.00 L387.32,-127.57 L388.55,-129.16 L389.78,-130.77 L391.01,-132.39 L392.24,-134.03 L393.47,-135.69 L394.70,-137.36 L395.93,-139.04 L397.16,-140.74 L398.39,-142.44 L399.62,-144.16 L400.85,-145.88 L402.08,-147.61 L403.31,-149.34 L404.54,-151.08 L405.77,-152.82 L407.00,-154.57 L408.23,-156.32 L409.46,-158.07 L410.69,-159.83 L411.92,-161.59 L413.15,-163.35 L414.38,-165.12 L415.61,-166.88 L416.84,-168.65 L418.07,-170.42 L419.30,-172.19 L420.53,-173.97 L421.76,-175.74 L422.99,-177.52 L424.22,-179.29 L425.45,-181.07 L426.68,-182.85 L427.91,-184.62 L429.14,-186.40 L430.37,-188.18 L431.60,-189.96 L432.83,-191.74 L434.06,-193.51 L435.29,-195.29 L436.52,-197.06 L437.75,-198.84 L438.98,-200.61 L440.21,-202.38 L441.44,-204.15 L442.68,-205.92 L443.91,-207.68 L445.14,-209.45 L446.37,-211.21 L447.60,-212.96 L448.83,-214.72 L450.06,-216.47 L451.29,-218.22 L452.52,-219.96 L453.75,-221.70 L454.98,-223.44 L456.21,-225.17 L457.44,-226.90 L458.67,-228.63 L459.90,-230.35 L461.13,-232.06 L462.36,-233.77 L463.59,-235.48 L464.82,-237.18 L466.05,-238.87 L467.28,-240.56 L468.51,-242.24 L469.74,-243.92 L470.97,-245.59 L472.20,-247.25 L473.43,-248.91 L474.66,-250.56 L475.89,-252.20 L477.12,-253.83 L478.35,-255.46 L479.58,-257.08 L479.58,-25.16 L478.35,-24.69 L477.12,-24.23 L475.89,-23.77 L474.66,-23.32 L473.43,-22.87 L472.20,-22.42 L470.97,-21.98 L469.74,-21.54 L468.51,-21.11 L467.28,-20.67 L466.05,-20.25 L464.82,-19.82 L463.59,-19.40 L462.36,-18.99 L461.13,-18.57 L459.90,-18.16 L458.67,-17.76 L457.44,-17.35 L456.21,-16.96 L454.98,-16.56 L453.75,-16.17 L452.52,-15.78 L451.29,-15.39 L450.06,-15.01 L448.83,-14.63 L447.60,-14.26 L446.37,-13.89 L445.14,-13.52 L443.91,-13.15 L442.68,-12.79 L441.44,-12.43 L440.21,-12.07 L438.98,-11.72 L437.75,-11.37 L436.52,-11.02 L435.29,-10.68 L434.06,-10.34 L432.83,-10.00 L431.60,-9.67 L430.37,-9.34 L429.14,-9.01 L427.91,-8.68 L426.68,-8.36 L425.45,-8.04 L424.22,-7.73 L422.99,-7.41 L421.76,-7.10 L420.53,-6.79 L419.30,-6.49 L418.07,-6.18 L416.84,-5.88 L415.61,-5.59 L414.38,-5.29 L413.15,-5.00 L411.92,-4.71 L410.69,-4.43 L409.46,-4.14 L408.23,-3.86 L407.00,-3.58 L405.77,-3.30 L404.54,-3.03 L403.31,-2.76 L402.08,-2.49 L400.85,-2.22 L399.62,-1.96 L398.39,-1.70 L397.16,-1.44 L395.93,-1.18 L394.70,-0.93 L393.47,-0.68 L392.24,-0.42 L391.01,-0.18 L389.78,0.07 L388.55,0.31 L387.32,0.55 L386.09,0.79 L384.86,1.03 L383.63,1.26 L382.39,1.50 L381.16,1.73 L379.93,1.96 L378.70,2.18 L377.47,2.41 L376.24,2.63 L375.01,2.85 L373.78,3.07 L372.55,3.29 L371.32,3.50 L370.09,3.72 L368.86,3.93 L367.63,4.14 L366.40,4.34 L365.17,4.55 L363.94,4.76 L362.71,4.96 L361.48,5.16 L360.25,5.36 L359.02,5.56 L357.79,5.75 L356.56,5.95 L355.33,6.14 L354.10,6.33 L352.87,6.52 L351.64,6.71 L350.41,6.90 L349.18,7.08 L347.95,7.27 L346.72,7.45 L345.49,7.63 L344.26,7.81 L343.03,7.99 L341.80,8.16 L340.57,8.34 L339.34,8.52 L338.11,8.69 L336.88,8.86 L335.65,9.03 L334.42,9.21 L333.19,9.38 L331.96,9.55 L330.73,9.72 L329.50,9.89 L328.27,10.07 L327.04,10.24 L325.81,10.42 L324.58,10.60 L323.34,10.78 L322.11,10.96 L320.88,11.15 L319.65,11.34 L318.42,11.53 L317.19,11.73 L315.96,11.93 L314.73,12.13 L313.50,12.34 L312.27,12.55 L311.04,12.77 L309.81,13.00 L308.58,13.23 L307.35,13.47 L306.12,13.72 L304.89,13.98 L303.66,14.25 L302.43,14.54 L301.20,14.84 L299.97,15.15 L298.74,15.48 L297.51,15.83 L296.28,16.19 L295.05,16.58 L293.82,16.98 L292.59,17.41 L291.36,17.86 L290.13,18.33 L288.90,18.83 L287.67,19.36 L286.44,19.91 L285.21,20.49 L283.98,21.10 L282.75,21.74 L281.52,22.41 L280.29,23.09 L279.06,23.80 L277.83,24.53 L276.60,25.27 L275.37,26.03 L274.14,26.79 L272.91,27.57 L271.68,28.34 L270.45,29.12 L269.22,29.90 L267.99,30.68 L266.76,31.45 L265.53,32.21 L264.29,32.96 L263.06,33.70 L261.83,34.43 L260.60,35.13 L259.37,35.81 L258.14,36.47 L256.91,37.10 L255.68,37.71 L254.45,38.28 L253.22,38.83 L251.99,39.36 L250.76,39.86 L249.53,40.33 L248.30,40.78 L247.07,41.21 L245.84,41.61 L244.61,41.99 L243.38,42.34 L242.15,42.68 L240.92,42.99 L239.69,43.29 L238.46,43.56 L237.23,43.82 L236.00,44.05 L234.77,44.27 L233.54,44.47 L232.31,44.65 L231.08,44.82 L229.85,44.97 L228.62,45.10 L227.39,45.22 L226.16,45.33 L224.93,45.42 L223.70,45.50 L222.47,45.56 L221.24,45.62 L220.01,45.66 L218.78,45.69 L217.55,45.72 L216.32,45.73 L215.09,45.73 L213.86,45.73 L212.63,45.71 L211.40,45.69 L210.17,45.66 L208.94,45.63 L207.71,45.59 L206.48,45.54 L205.24,45.50 L204.01,45.44 L202.78,45.38 L201.55,45.32 L200.32,45.26 L199.09,45.20 L197.86,45.13 L196.63,45.07 L195.40,45.00 L194.17,44.93 L192.94,44.87 L191.71,44.81 L190.48,44.75 L189.25,44.69 L188.02,44.63 L186.79,44.58 L185.56,44.54 L184.33,44.50 L183.10,44.46 L181.87,44.42 L180.64,44.40 L179.41,44.37 L178.18,44.36 L176.95,44.34 L175.72,44.34 L174.49,44.34 L173.26,44.34 L172.03,44.35 L170.80,44.37 L169.57,44.40 L168.34,44.43 L167.11,44.47 L165.88,44.51 L164.65,44.57 L163.42,44.63 L162.19,44.70 L160.96,44.77 L159.73,44.86 L158.50,44.95 L157.27,45.06 L156.04,45.17 L154.81,45.29 L153.58,45.42 L152.35,45.56 L151.12,45.71 L149.89,45.87 L148.66,46.04 L147.43,46.22 L146.19,46.41 L144.96,46.61 L143.73,46.82 L142.50,47.04 L141.27,47.27 L140.04,47.52 L138.81,47.78 L137.58,48.04 L136.35,48.32 L135.12,48.62 L133.89,48.92 L132.66,49.24 L131.43,49.57 L130.20,49.92 L128.97,50.27 L127.74,50.64 L126.51,51.01 L125.28,51.39 L124.05,51.75 L122.82,52.11 L121.59,52.46 L120.36,52.78 L119.13,53.08 L117.90,53.35 L116.67,53.59 L115.44,53.79 L114.21,53.96 L112.98,54.08 L111.75,54.16 L110.52,54.19 L109.29,54.17 L108.06,54.10 L106.83,53.98 L105.60,53.82 L104.37,53.62 L103.14,53.38 L101.91,53.11 L100.68,52.81 L99.45,52.50 L98.22,52.15 L96.99,51.79 L95.76,51.40 L94.53,50.97 L93.30,50.52 L92.07,50.02 L90.84,49.49 L89.61,48.92 L88.38,48.30 L87.14,47.65 L85.91,46.97 L84.68,46.27 L83.45,45.56 L82.22,44.85 L80.99,44.15 L79.76,43.46 L78.53,42.79 L77.30,42.15 L76.07,41.52 L74.84,40.91 L73.61,40.32 L72.38,39.74 L71.15,39.18 L69.92,38.63 L68.69,38.09 L67.46,37.56 L66.23,37.03 L65.00,36.52 L63.77,36.00 L62.54,35.49 L61.31,34.99Z" fill="#b3bcc4"/>
<rect x="65.3" y="33.09" width="122.75000000000001" height="12.55" fill="#00ff00" fill-opacity="0.3"/>
<rect x="65.3" y="45.65" width="122.75000000000001" height="12.55" fill="#00ff00" fill-opacity="0.6"/>
<rect x="65.3" y="58.20" width="122.75000000000001" height="12.55" fill="#00ff00" fill-opacity="0.9"/>
<path d="M61.31,30.06 L62.54,30.58 L63.77,31.11 L65.00,31.66 L66.23,32.22 L67.46,32.80 L68.69,33.39 L69.92,34.00 L71.15,34.61 L72.38,35.24 L73.61,35.88 L74.84,36.52 L76.07,37.18 L77.30,37.84 L78.53,38.51 L79.76,39.19 L80.99,39.87 L82.22,40.55 L83.45,41.23 L84.68,41.91 L85.91,42.59 L87.14,43.25 L88.38,43.90 L89.61,44.54 L90.84,45.15 L92.07,45.75 L93.30,46.32 L94.53,46.86 L95.76,47.38 L96.99,47.86 L98.22,48.30 L99.45,48.71 L100.68,49.07 L101.91,49.39 L103.14,49.67 L104.37,49.91 L105.60,50.11 L106.83,50.27 L108.06,50.40 L109.29,50.49 L110.52,50.54 L111.75,50.56 L112.98,50.55 L114.21,50.51 L115.44,50.44 L116.67,50.34 L117.90,50.21 L119.13,50.06 L120.36,49.88 L121.59,49.67 L122.82,49.45 L124.05,49.20 L125.28,48.92 L126.51,48.63 L127.74,48.32 L128.97,48.00 L130.20,47.65 L131.43,47.30 L132.66,46.92 L133.89,46.54 L135.12,46.15 L136.35,45.76 L137.58,45.36 L138.81,44.96 L140.04,44.56 L141.27,44.16 L142.50,43.77 L143.73,43.39 L144.96,43.02 L146.19,42.66 L147.43,42.31 L148.66,41.99 L149.89,41.68 L151.12,41.39 L152.35,41.12 L153.58,40.87 L154.81,40.64 L156.04,40.43 L157.27,40.23 L158.50,40.04 L159.73,39.87 L160.96,39.72 L162.19,39.57 L163.42,39.43 L164.65,39.31 L165.88,39.20 L167.11,39.09 L168.34,39.00 L169.57,38.92 L170.80,38.84 L172.03,38.77 L173.26,38.71 L174.49,38.66 L175.72,38.61 L176.95,38.57 L178.18,38.53 L179.41,38.50 L180.64,38.48 L181.87,38.46 L183.10,38.44 L184.33,38.43 L185.56,38.42 L186.79,38.41 L188.02,38.40 L189.25,38.40 L190.48,38.39 L191.71,38.39 L192.94,38.38 L194.17,38.37 L195.40,38.36 L196.63,38.35 L197.86,38.34 L199.09,38.32 L200.32,38.30 L201.55,38.27 L202.78,38.24 L204.01,38.20 L205.24,38.15 L206.48,38.10 L207.71,38.03 L208.94,37.96 L210.17,37.88 L211.40,37.79 L212.63,37.68 L213.86,37.57 L215.09,37.44 L216.32,37.31 L217.55,37.15 L218.78,36.99 L220.01,36.80 L221.24,36.61 L222.47,36.39 L223.70,36.16 L224.93,35.92 L226.16,35.65 L227.39,35.37 L228.62,35.07 L229.85,34.74 L231.08,34.40 L232.31,34.04 L233.54,33.66 L234.77,33.26 L236.00,32.84 L237.23,32.41 L238.46,31.97 L239.69,31.51 L240.92,31.04 L242.15,30.56 L243.38,30.08 L244.61,29.58 L245.84,29.08 L247.07,28.57 L248.30,28.05 L249.53,27.54 L250.76,27.02 L251.99,26.50 L253.22,25.98 L254.45,25.46 L255.68,24.95 L256.91,24.44 L258.14,23.93 L259.37,23.43 L260.60,22.93 L261.83,22.44 L263.06,21.95 L264.29,21.47 L265.53,20.99 L266.76,20.52 L267.99,20.05 L269.22,19.59 L270.45,19.13 L271.68,18.67 L272.91,18.22 L274.14,17.77 L275.37,17.33 L276.60,16.89 L277.83,16.45 L279.06,16.02 L280.29,15.59 L281.52,15.16 L282.75,14.74 L283.98,14.32 L285.21,13.90 L286.44,13.48 L287.67,13.07 L288.90,12.66 L290.13,12.25 L291.36,11.84 L292.59,11.44 L293.82,11.03 L295.05,10.63 L296.28,10.23 L297.51,9.84 L298.74,9.44 L299.97,9.05 L301.20,8.65 L302.43,8.26 L303.66,7.87 L304.89,7.48 L306.12,7.09 L307.35,6.70 L308.58,6.31 L309.81,5.92 L311.04,5.54 L312.27,5.15 L313.50,4.76 L314.73,4.37 L315.96,3.98 L317.19,3.60 L318.42,3.21 L319.65,2.82 L320.88,2.43 L322.11,2.04 L323.34,1.64 L324.58,1.25 L325.81,0.86 L327.04,0.46 L328.27,0.07 L329.50,-0.33 L330.73,-0.73 L331.96,-1.13 L333.19,-1.54 L334.42,-1.94 L335.65,-2.35 L336.88,-2.76 L338.11,-3.17 L339.34,-3.58 L340.57,-4.00 L341.80,-4.42 L343.03,-4.85 L344.26,-5.28 L345.49,-5.71 L346.72,-6.15 L347.95,-6.60 L349.18,-7.06 L350.41,-7.52 L351.64,-8.00 L352.87,-8.48 L354.10,-8.98 L355.33,-9.49 L356.56,-10.01 L357.79,-10.54 L359.02,-11.09 L360.25,-11.65 L361.48,-12.23 L362.71,-12.82 L363.94,-13.43 L365.17,-14.06 L366.40,-14.71 L367.63,-15.38 L368.86,-16.06 L370.09,-16.77 L371.32,-17.50 L372.55,-18.25 L373.78,-19.03 L375.01,-19.83 L376.24,-20.65 L377.47,-21.50 L378.70,-22.37 L379.93,-23.27 L381.16,-24.19 L382.39,-25.14 L383.63,-26.10 L384.86,-27.08 L386.09,-28.09 L387.32,-29.10 L388.55,-30.14 L389.78,-31.19 L391.01,-32.25 L392.24,-33.32 L393.47,-34.41 L394.70,-35.51 L395.93,-36.61 L397.16,-37.73 L398.39,-38.85 L399.62,-39.97 L400.85,-41.10 L402.08,-42.24 L403.31,-43.37 L404.54,-44.51 L405.77,-45.65 L407.00,-46.78 L408.23,-47.92 L409.46,-49.06 L410.69,-50.20 L411.92,-51.34 L413.15,-52.48 L414.38,-53.63 L415.61,-54.78 L416.84,-55.92 L418.07,-57.08 L419.30,-58.23 L420.53,-59.39 L421.76,-60.55 L422.99,-61.71 L424.22,-62.88 L425.45,-64.05 L426.68,-65.22 L427.91,-66.40 L429.14,-67.58 L430.37,-68.77 L431.60,-69.96 L432.83,-71.16 L434.06,-72.36 L435.29,-73.57 L436.52,-74.78 L437.75,-76.00 L438.98,-77.22 L440.21,-78.46 L441.44,-79.69 L442.68,-80.94 L443.91,-82.19 L445.14,-83.45 L446.37,-84.71 L447.60,-85.99 L448.83,-87.27 L450.06,-88.56 L451.29,-89.85 L452.52,-91.16 L453.75,-92.47 L454.98,-93.79 L456.21,-95.13 L457.44,-96.47 L458.67,-97.82 L459.90,-99.18 L461.13,-100.55 L462.36,-101.93 L463.59,-103.32 L464.82,-104.72 L466.05,-106.13 L467.28,-107.55 L468.51,-108.99 L469.74,-110.43 L470.97,-111.89 L472.20,-113.36 L473.43,-114.84 L474.66,-116.33 L475.89,-117.84 L477.12,-119.35 L478.35,-120.88 L479.58,-122.43" fill="none" stroke="#000" stroke-width="1.0" stroke-dasharray="5.4,1.35,0.85,1.35"/>
</g>
<path d="M65.3,0.77 L65.3,70.75 L188.05,70.75 L188.05,0.77" fill="none" stroke="#222" stroke-width="0.65"/>
<line x1="80.64" x2="80.64" y1="70.75" y2="72.45" stroke="#222" stroke-width="0.65"/>
<text x="80.64" y="78.95" font-size="5.5" text-anchor="middle" fill="#000">0</text>
<line x1="111.33" x2="111.33" y1="70.75" y2="72.45" stroke="#222" stroke-width="0.65"/>
<text x="111.33" y="78.95" font-size="5.5" text-anchor="middle" fill="#000">10</text>
<line x1="142.02" x2="142.02" y1="70.75" y2="72.45" stroke="#222" stroke-width="0.65"/>
<text x="142.02" y="78.95" font-size="5.5" text-anchor="middle" fill="#000">20</text>
<line x1="172.71" x2="172.71" y1="70.75" y2="72.45" stroke="#222" stroke-width="0.65"/>
<text x="172.71" y="78.95" font-size="5.5" text-anchor="middle" fill="#000">30</text>
<line x1="63.599999999999994" x2="65.3" y1="70.75" y2="70.75" stroke="#222" stroke-width="0.65"/>
<text x="61.40" y="72.72" font-size="5.5" text-anchor="end" fill="#000">0.000</text>
<line x1="63.599999999999994" x2="65.3" y1="57.67" y2="57.67" stroke="#222" stroke-width="0.65"/>
<text x="61.40" y="59.64" font-size="5.5" text-anchor="end" fill="#000">0.025</text>
<line x1="63.599999999999994" x2="65.3" y1="44.60" y2="44.60" stroke="#222" stroke-width="0.65"/>
<text x="61.40" y="46.57" font-size="5.5" text-anchor="end" fill="#000">0.050</text>
<line x1="63.599999999999994" x2="65.3" y1="31.52" y2="31.52" stroke="#222" stroke-width="0.65"/>
<text x="61.40" y="33.49" font-size="5.5" text-anchor="end" fill="#000">0.075</text>
<line x1="63.599999999999994" x2="65.3" y1="18.45" y2="18.45" stroke="#222" stroke-width="0.65"/>
<text x="61.40" y="20.42" font-size="5.5" text-anchor="end" fill="#000">0.100</text>
<line x1="63.599999999999994" x2="65.3" y1="5.38" y2="5.38" stroke="#222" stroke-width="0.65"/>
<text x="61.40" y="7.34" font-size="5.5" text-anchor="end" fill="#000">0.125</text>
<rect x="267.6" y="34.2" width="70.59999999999997" height="11.299999999999997" rx="1.6" ry="1.6" fill="#c4c400" stroke="#c400c4" stroke-width="0.9"/>
<text x="302.90" y="41.95" font-size="7.0" text-anchor="middle" fill="#000">between c1 and c3</text>
</g>
<g transform="translate(0,470)">
<g clip-path="url(#cm)">
<path d="M64.33,183.02 L65.04,183.35 L65.75,183.69 L66.45,184.02 L67.16,184.35 L67.86,184.69 L68.57,185.02 L69.28,185.35 L69.98,185.68 L70.69,186.00 L71.39,186.33 L72.10,186.65 L72.81,186.97 L73.51,187.29 L74.22,187.60 L74.92,187.91 L75.63,188.21 L76.34,188.52 L77.04,188.81 L77.75,189.11 L78.45,189.40 L79.16,189.68 L79.87,189.96 L80.57,190.23 L81.28,190.50 L81.98,190.76 L82.69,191.01 L83.40,191.26 L84.10,191.50 L84.81,191.74 L85.51,191.96 L86.22,192.18 L86.93,192.39 L87.63,192.60 L88.34,192.79 L89.04,192.98 L89.75,193.16 L90.46,193.33 L91.16,193.48 L91.87,193.63 L92.57,193.77 L93.28,193.90 L93.99,194.02 L94.69,194.13 L95.40,194.23 L96.10,194.31 L96.81,194.39 L97.52,194.45 L98.22,194.50 L98.93,194.54 L99.63,194.57 L100.34,194.58 L101.05,194.59 L101.75,194.58 L102.46,194.56 L103.16,194.53 L103.87,194.49 L104.58,194.44 L105.28,194.38 L105.99,194.31 L106.69,194.23 L107.40,194.14 L108.11,194.04 L108.81,193.93 L109.52,193.81 L110.22,193.68 L110.93,193.55 L111.64,193.40 L112.34,193.25 L113.05,193.09 L113.75,192.92 L114.46,192.74 L115.17,192.56 L115.87,192.37 L116.58,192.17 L117.28,191.96 L117.99,191.75 L118.70,191.53 L119.40,191.30 L120.11,191.07 L120.81,190.83 L121.52,190.59 L122.23,190.34 L122.93,190.08 L123.64,189.82 L124.34,189.56 L125.05,189.28 L125.76,189.01 L126.46,188.73 L127.17,188.44 L127.87,188.16 L128.58,187.86 L129.29,187.57 L129.99,187.27 L130.70,186.96 L131.40,186.66 L132.11,186.35 L132.82,186.04 L133.52,185.72 L134.23,185.40 L134.93,185.08 L135.64,184.76 L136.35,184.43 L137.05,184.10 L137.76,183.77 L138.46,183.44 L139.17,183.10 L139.88,182.76 L140.58,182.41 L141.29,182.07 L141.99,181.72 L142.70,181.36 L143.41,181.01 L144.11,180.65 L144.82,180.29 L145.52,179.92 L146.23,179.55 L146.94,179.18 L147.64,178.81 L148.35,178.43 L149.05,178.05 L149.76,177.66 L150.47,177.28 L151.17,176.89 L151.88,176.49 L152.58,176.09 L153.29,175.69 L154.00,175.29 L154.70,174.88 L155.41,174.47 L156.11,174.06 L156.82,173.64 L157.53,173.22 L158.23,172.79 L158.94,172.36 L159.64,171.93 L160.35,171.50 L161.06,171.06 L161.76,170.62 L162.47,170.17 L163.17,169.72 L163.88,169.27 L164.59,168.81 L165.29,168.35 L166.00,167.88 L166.70,167.42 L167.41,166.94 L168.12,166.47 L168.82,165.99 L169.53,165.51 L170.24,165.02 L170.94,164.53 L171.65,164.03 L172.35,163.53 L173.06,163.03 L173.77,162.53 L174.47,162.01 L175.18,161.50 L175.88,160.98 L176.59,160.46 L177.30,159.93 L178.00,159.40 L178.71,158.87 L179.41,158.33 L180.12,157.79 L180.83,157.24 L181.53,156.69 L182.24,156.13 L182.94,155.57 L183.65,155.01 L184.36,154.44 L185.06,153.87 L185.77,153.29 L186.47,152.71 L187.18,152.13 L187.89,151.54 L188.59,150.94 L189.30,150.34 L190.00,149.74 L190.71,149.13 L191.42,148.52 L192.12,147.91 L192.83,147.29 L193.53,146.66 L194.24,146.03 L194.95,145.40 L195.65,144.76 L196.36,144.12 L197.06,143.47 L197.77,142.81 L198.48,142.16 L199.18,141.50 L199.89,140.83 L200.59,140.16 L201.30,139.48 L202.01,138.80 L202.71,138.12 L203.42,137.43 L204.12,136.73 L204.83,136.03 L205.54,135.33 L206.24,134.62 L206.95,133.90 L207.65,133.18 L208.36,132.46 L209.07,131.73 L209.77,130.99 L210.48,130.25 L211.18,129.51 L211.89,128.76 L212.60,128.01 L213.30,127.25 L214.01,126.48 L214.71,125.71 L215.42,124.94 L216.13,124.16 L216.83,123.37 L217.54,122.58 L218.24,121.78 L218.95,120.98 L219.66,120.18 L220.36,119.37 L221.07,118.55 L221.77,117.73 L222.48,116.90 L223.19,116.07 L223.89,115.23 L224.60,114.38 L225.30,113.53 L226.01,112.68 L226.72,111.82 L227.42,110.95 L228.13,110.08 L228.83,109.21 L229.54,108.32 L230.25,107.44 L230.95,106.54 L231.66,105.64 L232.36,104.74 L233.07,103.83 L233.78,102.91 L234.48,101.99 L235.19,101.06 L235.89,100.13 L236.60,99.19 L237.31,98.25 L238.01,97.30 L238.72,96.34 L239.42,95.38 L240.13,94.41 L240.84,93.44 L241.54,92.46 L242.25,91.47 L242.95,90.48 L243.66,89.48 L244.37,88.48 L245.07,87.47 L245.78,86.45 L246.48,85.43 L247.19,84.41 L247.90,83.37 L248.60,82.33 L249.31,81.29 L250.01,80.23 L250.72,79.18 L251.43,78.11 L252.13,77.04 L252.84,75.96 L253.54,74.88 L254.25,73.79 L254.96,72.69 L255.66,71.59 L256.37,70.48 L257.07,69.37 L257.78,68.25 L258.49,67.12 L259.19,65.99 L259.90,64.85 L260.60,63.70 L261.31,62.55 L262.02,61.39 L262.72,60.22 L263.43,59.05 L264.13,57.87 L264.84,56.68 L265.55,55.49 L266.25,54.29 L266.96,53.08 L267.66,51.87 L268.37,50.65 L269.08,49.43 L269.78,48.19 L270.49,46.95 L271.19,45.71 L271.90,44.45 L272.61,43.20 L273.31,41.93 L274.02,40.66 L274.72,39.37 L275.43,38.09 L276.14,36.79 L276.84,35.49 L277.55,34.18 L278.25,32.87 L278.96,31.55 L279.67,30.22 L280.37,28.88 L281.08,27.54 L281.78,26.19 L282.49,24.83 L283.20,23.47 L283.90,22.10 L284.61,20.72 L285.31,19.33 L286.02,17.94 L286.73,16.54 L287.43,15.13 L288.14,13.72 L288.84,12.30 L289.55,10.87 L290.26,9.43 L290.96,7.99 L291.67,6.53 L292.37,5.08 L293.08,3.61 L293.79,2.14 L294.49,0.66 L295.20,-0.83 L295.91,-2.33 L296.61,-3.83 L297.32,-5.34 L298.02,-6.86 L298.73,-8.39 L299.44,-9.92 L300.14,-11.46 L300.85,-13.01 L301.55,-14.57 L302.26,-16.13 L302.97,-17.70 L303.67,-19.28 L304.38,-20.87 L304.38,76.71 L303.67,77.58 L302.97,78.45 L302.26,79.31 L301.55,80.17 L300.85,81.03 L300.14,81.88 L299.44,82.73 L298.73,83.57 L298.02,84.42 L297.32,85.25 L296.61,86.09 L295.91,86.92 L295.20,87.74 L294.49,88.57 L293.79,89.39 L293.08,90.20 L292.37,91.01 L291.67,91.82 L290.96,92.63 L290.26,93.43 L289.55,94.23 L288.84,95.02 L288.14,95.81 L287.43,96.60 L286.73,97.38 L286.02,98.16 L285.31,98.94 L284.61,99.71 L283.90,100.48 L283.20,101.25 L282.49,102.01 L281.78,102.77 L281.08,103.53 L280.37,104.28 L279.67,105.03 L278.96,105.78 L278.25,106.52 L277.55,107.26 L276.84,107.99 L276.14,108.72 L275.43,109.45 L274.72,110.18 L274.02,110.90 L273.31,111.62 L272.61,112.33 L271.90,113.04 L271.19,113.75 L270.49,114.46 L269.78,115.16 L269.08,115.86 L268.37,116.55 L267.66,117.24 L266.96,117.93 L266.25,118.61 L265.55,119.29 L264.84,119.97 L264.13,120.65 L263.43,121.32 L262.72,121.99 L262.02,122.65 L261.31,123.31 L260.60,123.97 L259.90,124.63 L259.19,125.28 L258.49,125.93 L257.78,126.57 L257.07,127.21 L256.37,127.85 L255.66,128.49 L254.96,129.12 L254.25,129.75 L253.54,130.38 L252.84,131.00 L252.13,131.62 L251.43,132.23 L250.72,132.85 L250.01,133.46 L249.31,134.06 L248.60,134.67 L247.90,135.27 L247.19,135.87 L246.48,136.46 L245.78,137.05 L245.07,137.64 L244.37,138.22 L243.66,138.81 L242.95,139.38 L242.25,139.96 L241.54,140.53 L240.84,141.10 L240.13,141.67 L239.42,142.23 L238.72,142.79 L238.01,143.35 L237.31,143.90 L236.60,144.45 L235.89,145.00 L235.19,145.55 L234.48,146.09 L233.78,146.63 L233.07,147.16 L232.36,147.70 L231.66,148.23 L230.95,148.75 L230.25,149.28 L229.54,149.80 L228.83,150.32 L228.13,150.83 L227.42,151.35 L226.72,151.85 L226.01,152.36 L225.30,152.86 L224.60,153.36 L223.89,153.86 L223.19,154.36 L222.48,154.85 L221.77,155.34 L221.07,155.82 L220.36,156.31 L219.66,156.79 L218.95,157.27 L218.24,157.74 L217.54,158.21 L216.83,158.68 L216.13,159.15 L215.42,159.61 L214.71,160.07 L214.01,160.53 L213.30,160.98 L212.60,161.43 L211.89,161.88 L211.18,162.33 L210.48,162.77 L209.77,163.21 L209.07,163.65 L208.36,164.09 L207.65,164.52 L206.95,164.95 L206.24,165.38 L205.54,165.80 L204.83,166.22 L204.12,166.64 L203.42,167.06 L202.71,167.47 L202.01,167.88 L201.30,168.29 L200.59,168.70 L199.89,169.10 L199.18,169.50 L198.48,169.90 L197.77,170.29 L197.06,170.68 L196.36,171.07 L195.65,171.46 L194.95,171.84 L194.24,172.22 L193.53,172.60 L192.83,172.98 L192.12,173.35 L191.42,173.72 L190.71,174.09 L190.00,174.46 L189.30,174.82 L188.59,175.18 L187.89,175.54 L187.18,175.90 L186.47,176.25 L185.77,176.60 L185.06,176.95 L184.36,177.29 L183.65,177.64 L182.94,177.98 L182.24,178.32 L181.53,178.65 L180.83,178.98 L180.12,179.32 L179.41,179.64 L178.71,179.97 L178.00,180.29 L177.30,180.61 L176.59,180.93 L175.88,181.25 L175.18,181.56 L174.47,181.87 L173.77,182.18 L173.06,182.49 L172.35,182.79 L171.65,183.09 L170.94,183.39 L170.24,183.69 L169.53,183.98 L168.82,184.27 L168.12,184.56 L167.41,184.85 L166.70,185.13 L166.00,185.41 L165.29,185.69 L164.59,185.97 L163.88,186.25 L163.17,186.52 L162.47,186.79 L161.76,187.06 L161.06,187.33 L160.35,187.59 L159.64,187.85 L158.94,188.11 L158.23,188.37 L157.53,188.62 L156.82,188.87 L156.11,189.12 L155.41,189.37 L154.70,189.62 L154.00,189.86 L153.29,190.10 L152.58,190.34 L151.88,190.58 L151.17,190.81 L150.47,191.05 L149.76,191.28 L149.05,191.50 L148.35,191.73 L147.64,191.95 L146.94,192.18 L146.23,192.39 L145.52,192.61 L144.82,192.83 L144.11,193.04 L143.41,193.25 L142.70,193.46 L141.99,193.67 L141.29,193.87 L140.58,194.07 L139.88,194.27 L139.17,194.47 L138.46,194.67 L137.76,194.86 L137.05,195.05 L136.35,195.24 L135.64,195.43 L134.93,195.62 L134.23,195.80 L133.52,195.98 L132.82,196.16 L132.11,196.34 L131.40,196.52 L130.70,196.69 L129.99,196.86 L129.29,197.03 L128.58,197.20 L127.87,197.36 L127.17,197.52 L126.46,197.68 L125.76,197.83 L125.05,197.99 L124.34,198.13 L123.64,198.28 L122.93,198.42 L122.23,198.56 L121.52,198.69 L120.81,198.82 L120.11,198.95 L119.40,199.07 L118.70,199.19 L117.99,199.30 L117.28,199.41 L116.58,199.51 L115.87,199.61 L115.17,199.70 L114.46,199.79 L113.75,199.87 L113.05,199.95 L112.34,200.02 L111.64,200.09 L110.93,200.15 L110.22,200.21 L109.52,200.25 L108.81,200.30 L108.11,200.33 L107.40,200.36 L106.69,200.39 L105.99,200.40 L105.28,200.42 L104.58,200.42 L103.87,200.42 L103.16,200.40 L102.46,200.39 L101.75,200.36 L101.05,200.33 L100.34,200.29 L99.63,200.24 L98.93,200.18 L98.22,200.12 L97.52,200.05 L96.81,199.97 L96.10,199.88 L95.40,199.78 L94.69,199.67 L93.99,199.56 L93.28,199.43 L92.57,199.30 L91.87,199.16 L91.16,199.00 L90.46,198.84 L89.75,198.67 L89.04,198.49 L88.34,198.30 L87.63,198.10 L86.93,197.88 L86.22,197.66 L85.51,197.43 L84.81,197.19 L84.10,196.93 L83.40,196.67 L82.69,196.39 L81.98,196.10 L81.28,195.80 L80.57,195.49 L79.87,195.17 L79.16,194.84 L78.45,194.50 L77.75,194.16 L77.04,193.80 L76.34,193.45 L75.63,193.09 L74.92,192.74 L74.22,192.38 L73.51,192.03 L72.81,191.68 L72.10,191.34 L71.39,191.00 L70.69,190.68 L69.98,190.36 L69.28,190.06 L68.57,189.77 L67.86,189.50 L67.16,189.24 L66.45,189.00 L65.75,188.78 L65.04,188.59 L64.33,188.41Z" fill="#b3bcc4"/>
<path d="M64.33,184.76 L65.04,185.14 L65.75,185.51 L66.45,185.88 L67.16,186.25 L67.86,186.62 L68.57,186.99 L69.28,187.35 L69.98,187.72 L70.69,188.08 L71.39,188.43 L72.10,188.78 L72.81,189.13 L73.51,189.48 L74.22,189.82 L74.92,190.16 L75.63,190.50 L76.34,190.83 L77.04,191.15 L77.75,191.48 L78.45,191.79 L79.16,192.11 L79.87,192.41 L80.57,192.71 L81.28,193.01 L81.98,193.30 L82.69,193.59 L83.40,193.87 L84.10,194.14 L84.81,194.41 L85.51,194.67 L86.22,194.92 L86.93,195.17 L87.63,195.41 L88.34,195.64 L89.04,195.86 L89.75,196.08 L90.46,196.29 L91.16,196.49 L91.87,196.69 L92.57,196.87 L93.28,197.05 L93.99,197.22 L94.69,197.38 L95.40,197.53 L96.10,197.67 L96.81,197.80 L97.52,197.92 L98.22,198.04 L98.93,198.14 L99.63,198.23 L100.34,198.32 L101.05,198.39 L101.75,198.46 L102.46,198.52 L103.16,198.56 L103.87,198.60 L104.58,198.63 L105.28,198.65 L105.99,198.67 L106.69,198.67 L107.40,198.67 L108.11,198.66 L108.81,198.64 L109.52,198.61 L110.22,198.58 L110.93,198.53 L111.64,198.49 L112.34,198.43 L113.05,198.36 L113.75,198.29 L114.46,198.22 L115.17,198.13 L115.87,198.04 L116.58,197.94 L117.28,197.84 L117.99,197.73 L118.70,197.61 L119.40,197.49 L120.11,197.36 L120.81,197.23 L121.52,197.09 L122.23,196.94 L122.93,196.79 L123.64,196.64 L124.34,196.48 L125.05,196.31 L125.76,196.14 L126.46,195.97 L127.17,195.79 L127.87,195.61 L128.58,195.42 L129.29,195.23 L129.99,195.03 L130.70,194.83 L131.40,194.63 L132.11,194.42 L132.82,194.21 L133.52,193.99 L134.23,193.78 L134.93,193.55 L135.64,193.33 L136.35,193.10 L137.05,192.87 L137.76,192.63 L138.46,192.40 L139.17,192.15 L139.88,191.91 L140.58,191.66 L141.29,191.40 L141.99,191.15 L142.70,190.89 L143.41,190.62 L144.11,190.36 L144.82,190.09 L145.52,189.81 L146.23,189.53 L146.94,189.25 L147.64,188.97 L148.35,188.68 L149.05,188.38 L149.76,188.09 L150.47,187.79 L151.17,187.48 L151.88,187.17 L152.58,186.86 L153.29,186.55 L154.00,186.23 L154.70,185.91 L155.41,185.58 L156.11,185.25 L156.82,184.92 L157.53,184.58 L158.23,184.24 L158.94,183.89 L159.64,183.54 L160.35,183.19 L161.06,182.84 L161.76,182.47 L162.47,182.11 L163.17,181.74 L163.88,181.37 L164.59,181.00 L165.29,180.62 L166.00,180.23 L166.70,179.85 L167.41,179.45 L168.12,179.06 L168.82,178.66 L169.53,178.26 L170.24,177.85 L170.94,177.44 L171.65,177.02 L172.35,176.61 L173.06,176.18 L173.77,175.76 L174.47,175.33 L175.18,174.89 L175.88,174.45 L176.59,174.01 L177.30,173.56 L178.00,173.11 L178.71,172.66 L179.41,172.20 L180.12,171.74 L180.83,171.27 L181.53,170.80 L182.24,170.32 L182.94,169.85 L183.65,169.36 L184.36,168.88 L185.06,168.38 L185.77,167.89 L186.47,167.39 L187.18,166.89 L187.89,166.38 L188.59,165.87 L189.30,165.35 L190.00,164.83 L190.71,164.30 L191.42,163.78 L192.12,163.24 L192.83,162.71 L193.53,162.16 L194.24,161.62 L194.95,161.07 L195.65,160.52 L196.36,159.96 L197.06,159.39 L197.77,158.83 L198.48,158.26 L199.18,157.68 L199.89,157.10 L200.59,156.52 L201.30,155.93 L202.01,155.34 L202.71,154.74 L203.42,154.14 L204.12,153.53 L204.83,152.92 L205.54,152.31 L206.24,151.69 L206.95,151.07 L207.65,150.44 L208.36,149.81 L209.07,149.17 L209.77,148.53 L210.48,147.89 L211.18,147.24 L211.89,146.58 L212.60,145.92 L213.30,145.26 L214.01,144.59 L214.71,143.92 L215.42,143.25 L216.13,142.56 L216.83,141.88 L217.54,141.19 L218.24,140.50 L218.95,139.80 L219.66,139.09 L220.36,138.38 L221.07,137.67 L221.77,136.96 L222.48,136.23 L223.19,135.51 L223.89,134.78 L224.60,134.04 L225.30,133.30 L226.01,132.56 L226.72,131.81 L227.42,131.06 L228.13,130.31 L228.83,129.54 L229.54,128.78 L230.25,128.01 L230.95,127.24 L231.66,126.46 L232.36,125.68 L233.07,124.90 L233.78,124.11 L234.48,123.32 L235.19,122.52 L235.89,121.72 L236.60,120.92 L237.31,120.11 L238.01,119.30 L238.72,118.48 L239.42,117.67 L240.13,116.84 L240.84,116.02 L241.54,115.19 L242.25,114.36 L242.95,113.52 L243.66,112.68 L244.37,111.84 L245.07,110.99 L245.78,110.14 L246.48,109.29 L247.19,108.43 L247.90,107.57 L248.60,106.71 L249.31,105.84 L250.01,104.97 L250.72,104.10 L251.43,103.23 L252.13,102.35 L252.84,101.47 L253.54,100.58 L254.25,99.69 L254.96,98.80 L255.66,97.91 L256.37,97.02 L257.07,96.12 L257.78,95.22 L258.49,94.31 L259.19,93.40 L259.90,92.50 L260.60,91.58 L261.31,90.67 L262.02,89.75 L262.72,88.83 L263.43,87.91 L264.13,86.98 L264.84,86.06 L265.55,85.13 L266.25,84.20 L266.96,83.26 L267.66,82.33 L268.37,81.39 L269.08,80.45 L269.78,79.50 L270.49,78.56 L271.19,77.61 L271.90,76.66 L272.61,75.71 L273.31,74.76 L274.02,73.80 L274.72,72.84 L275.43,71.88 L276.14,70.92 L276.84,69.96 L277.55,68.99 L278.25,68.03 L278.96,67.06 L279.67,66.09 L280.37,65.12 L281.08,64.14 L281.78,63.17 L282.49,62.19 L283.20,61.21 L283.90,60.23 L284.61,59.25 L285.31,58.27 L286.02,57.29 L286.73,56.30 L287.43,55.31 L288.14,54.33 L288.84,53.34 L289.55,52.35 L290.26,51.36 L290.96,50.36 L291.67,49.37 L292.37,48.37 L293.08,47.38 L293.79,46.38 L294.49,45.38 L295.20,44.38 L295.91,43.39 L296.61,42.38 L297.32,41.38 L298.02,40.38 L298.73,39.38 L299.44,38.37 L300.14,37.37 L300.85,36.36 L301.55,35.36 L302.26,34.35 L302.97,33.34 L303.67,32.34 L304.38,31.33" fill="none" stroke="#000" stroke-width="1.0" stroke-dasharray="2.6,1.5"/>
</g>
<rect x="31.4" y="8.3" width="308.20000000000005" height="198.0" fill="none" stroke="#222" stroke-width="0.65"/>
<line x1="40.21" x2="40.21" y1="206.3" y2="208.3" stroke="#222" stroke-width="0.65"/>
<text x="40.21" y="215.60" font-size="6.7" text-anchor="middle" fill="#000">−20</text>
<line x1="75.43" x2="75.43" y1="206.3" y2="208.3" stroke="#222" stroke-width="0.65"/>
<text x="75.43" y="215.60" font-size="6.7" text-anchor="middle" fill="#000">0</text>
<line x1="110.65" x2="110.65" y1="206.3" y2="208.3" stroke="#222" stroke-width="0.65"/>
<text x="110.65" y="215.60" font-size="6.7" text-anchor="middle" fill="#000">20</text>
<line x1="145.87" x2="145.87" y1="206.3" y2="208.3" stroke="#222" stroke-width="0.65"/>
<text x="145.87" y="215.60" font-size="6.7" text-anchor="middle" fill="#000">40</text>
<line x1="181.10" x2="181.10" y1="206.3" y2="208.3" stroke="#222" stroke-width="0.65"/>
<text x="181.10" y="215.60" font-size="6.7" text-anchor="middle" fill="#000">60</text>
<line x1="216.32" x2="216.32" y1="206.3" y2="208.3" stroke="#222" stroke-width="0.65"/>
<text x="216.32" y="215.60" font-size="6.7" text-anchor="middle" fill="#000">80</text>
<line x1="251.54" x2="251.54" y1="206.3" y2="208.3" stroke="#222" stroke-width="0.65"/>
<text x="251.54" y="215.60" font-size="6.7" text-anchor="middle" fill="#000">100</text>
<line x1="286.77" x2="286.77" y1="206.3" y2="208.3" stroke="#222" stroke-width="0.65"/>
<text x="286.77" y="215.60" font-size="6.7" text-anchor="middle" fill="#000">120</text>
<line x1="321.99" x2="321.99" y1="206.3" y2="208.3" stroke="#222" stroke-width="0.65"/>
<text x="321.99" y="215.60" font-size="6.7" text-anchor="middle" fill="#000">140</text>
<line x1="29.4" x2="31.4" y1="206.30" y2="206.30" stroke="#222" stroke-width="0.65"/>
<text x="27.20" y="208.75" font-size="6.7" text-anchor="end" fill="#000">0.0</text>
<line x1="29.4" x2="31.4" y1="173.30" y2="173.30" stroke="#222" stroke-width="0.65"/>
<text x="27.20" y="175.75" font-size="6.7" text-anchor="end" fill="#000">0.2</text>
<line x1="29.4" x2="31.4" y1="140.30" y2="140.30" stroke="#222" stroke-width="0.65"/>
<text x="27.20" y="142.75" font-size="6.7" text-anchor="end" fill="#000">0.4</text>
<line x1="29.4" x2="31.4" y1="107.30" y2="107.30" stroke="#222" stroke-width="0.65"/>
<text x="27.20" y="109.75" font-size="6.7" text-anchor="end" fill="#000">0.6</text>
<line x1="29.4" x2="31.4" y1="74.30" y2="74.30" stroke="#222" stroke-width="0.65"/>
<text x="27.20" y="76.75" font-size="6.7" text-anchor="end" fill="#000">0.8</text>
<line x1="29.4" x2="31.4" y1="41.30" y2="41.30" stroke="#222" stroke-width="0.65"/>
<text x="27.20" y="43.75" font-size="6.7" text-anchor="end" fill="#000">1.0</text>
<line x1="29.4" x2="31.4" y1="8.30" y2="8.30" stroke="#222" stroke-width="0.65"/>
<text x="27.20" y="10.75" font-size="6.7" text-anchor="end" fill="#000">1.2</text>
<text x="185.50" y="224.60" font-size="7.08" text-anchor="middle" fill="#000" style="white-space:pre">Time   [Myr]</text>
<text transform="translate(13.0,108.10) rotate(-90)" font-size="7.08" text-anchor="middle" fill="#000" style="white-space:pre">Relative   Distance   [kpc]</text>
<rect x="66.62" y="181.55" width="70.45" height="24.75" fill="none" stroke="#000" stroke-width="0.65"/>
<rect x="65.3" y="0.77" width="122.75000000000001" height="69.98" fill="#fff"/>
<line x1="65.3" y1="70.75" x2="66.62" y2="206.30" stroke="#000" stroke-width="0.75"/>
<line x1="188.05" y1="70.75" x2="137.07" y2="206.30" stroke="#000" stroke-width="0.75"/>
<g clip-path="url(#ci)">
<path d="M61.31,-3.05 L62.54,-1.99 L63.77,-0.93 L65.00,0.13 L66.23,1.19 L67.46,2.25 L68.69,3.30 L69.92,4.34 L71.15,5.38 L72.38,6.42 L73.61,7.45 L74.84,8.47 L76.07,9.48 L77.30,10.48 L78.53,11.47 L79.76,12.46 L80.99,13.43 L82.22,14.38 L83.45,15.33 L84.68,16.26 L85.91,17.17 L87.14,18.07 L88.38,18.95 L89.61,19.82 L90.84,20.66 L92.07,21.49 L93.30,22.30 L94.53,23.08 L95.76,23.85 L96.99,24.59 L98.22,25.31 L99.45,26.00 L100.68,26.67 L101.91,27.32 L103.14,27.94 L104.37,28.53 L105.60,29.09 L106.83,29.62 L108.06,30.13 L109.29,30.60 L110.52,31.04 L111.75,31.45 L112.98,31.83 L114.21,32.17 L115.44,32.48 L116.67,32.75 L117.90,32.99 L119.13,33.19 L120.36,33.35 L121.59,33.47 L122.82,33.56 L124.05,33.61 L125.28,33.62 L126.51,33.60 L127.74,33.54 L128.97,33.45 L130.20,33.32 L131.43,33.16 L132.66,32.97 L133.89,32.74 L135.12,32.49 L136.35,32.20 L137.58,31.89 L138.81,31.54 L140.04,31.17 L141.27,30.76 L142.50,30.33 L143.73,29.87 L144.96,29.39 L146.19,28.88 L147.43,28.34 L148.66,27.78 L149.89,27.19 L151.12,26.59 L152.35,25.95 L153.58,25.30 L154.81,24.63 L156.04,23.93 L157.27,23.21 L158.50,22.48 L159.73,21.72 L160.96,20.95 L162.19,20.15 L163.42,19.34 L164.65,18.52 L165.88,17.67 L167.11,16.82 L168.34,15.94 L169.57,15.05 L170.80,14.15 L172.03,13.24 L173.26,12.31 L174.49,11.37 L175.72,10.42 L176.95,9.46 L178.18,8.49 L179.41,7.51 L180.64,6.52 L181.87,5.52 L183.10,4.51 L184.33,3.50 L185.56,2.47 L186.79,1.44 L188.02,0.39 L189.25,-0.66 L190.48,-1.72 L191.71,-2.79 L192.94,-3.87 L194.17,-4.96 L195.40,-6.06 L196.63,-7.17 L197.86,-8.29 L199.09,-9.42 L200.32,-10.56 L201.55,-11.70 L202.78,-12.86 L204.01,-14.03 L205.24,-15.21 L206.48,-16.39 L207.71,-17.59 L208.94,-18.80 L210.17,-20.02 L211.40,-21.25 L212.63,-22.48 L213.86,-23.73 L215.09,-24.99 L216.32,-26.26 L217.55,-27.54 L218.78,-28.84 L220.01,-30.14 L221.24,-31.45 L222.47,-32.78 L223.70,-34.11 L224.93,-35.46 L226.16,-36.82 L227.39,-38.18 L228.62,-39.56 L229.85,-40.96 L231.08,-42.36 L232.31,-43.77 L233.54,-45.20 L234.77,-46.63 L236.00,-48.08 L237.23,-49.54 L238.46,-51.02 L239.69,-52.50 L240.92,-53.99 L242.15,-55.50 L243.38,-57.02 L244.61,-58.55 L245.84,-60.10 L247.07,-61.65 L248.30,-63.22 L249.53,-64.80 L250.76,-66.40 L251.99,-68.00 L253.22,-69.62 L254.45,-71.25 L255.68,-72.89 L256.91,-74.55 L258.14,-76.22 L259.37,-77.90 L260.60,-79.60 L261.83,-81.30 L263.06,-83.03 L264.29,-84.76 L265.53,-86.51 L266.76,-88.27 L267.99,-90.04 L269.22,-91.83 L270.45,-93.63 L271.68,-95.44 L272.91,-97.27 L274.14,-99.11 L275.37,-100.97 L276.60,-102.83 L277.83,-104.72 L279.06,-106.61 L280.29,-108.52 L281.52,-110.45 L282.75,-112.39 L283.98,-114.34 L285.21,-116.31 L286.44,-118.29 L287.67,-120.28 L288.90,-122.29 L290.13,-124.32 L291.36,-126.36 L292.59,-128.41 L293.82,-130.48 L295.05,-132.56 L296.28,-134.66 L297.51,-136.77 L298.74,-138.90 L299.97,-141.04 L301.20,-143.20 L302.43,-145.37 L303.66,-147.56 L304.89,-149.77 L306.12,-151.98 L307.35,-154.22 L308.58,-156.47 L309.81,-158.73 L311.04,-161.01 L312.27,-163.31 L313.50,-165.62 L314.73,-167.95 L315.96,-170.29 L317.19,-172.65 L318.42,-175.03 L319.65,-177.42 L320.88,-179.83 L322.11,-182.25 L323.34,-184.69 L324.58,-187.15 L325.81,-189.62 L327.04,-192.11 L328.27,-194.62 L329.50,-197.14 L330.73,-199.68 L331.96,-202.23 L333.19,-204.81 L334.42,-207.40 L335.65,-210.00 L336.88,-212.62 L338.11,-215.26 L339.34,-217.92 L340.57,-220.60 L341.80,-223.29 L343.03,-226.00 L344.26,-228.72 L345.49,-231.47 L346.72,-234.23 L347.95,-237.01 L349.18,-239.80 L350.41,-242.62 L351.64,-245.45 L352.87,-248.30 L354.10,-251.16 L355.33,-254.05 L356.56,-256.95 L357.79,-259.87 L359.02,-262.81 L360.25,-265.77 L361.48,-268.75 L362.71,-271.74 L363.94,-274.75 L365.17,-277.78 L366.40,-280.83 L367.63,-283.90 L368.86,-286.99 L370.09,-290.09 L371.32,-293.22 L372.55,-296.36 L373.78,-299.52 L375.01,-302.70 L376.24,-305.90 L377.47,-309.12 L378.70,-312.36 L379.93,-315.62 L381.16,-318.90 L382.39,-322.19 L383.63,-325.51 L384.86,-328.84 L386.09,-332.20 L387.32,-335.57 L388.55,-338.97 L389.78,-342.38 L391.01,-345.81 L392.24,-349.27 L393.47,-352.74 L394.70,-356.23 L395.93,-359.75 L397.16,-363.28 L398.39,-366.83 L399.62,-370.41 L400.85,-374.00 L402.08,-377.62 L403.31,-381.25 L404.54,-384.91 L405.77,-388.58 L407.00,-392.28 L408.23,-396.00 L409.46,-399.74 L410.69,-403.50 L411.92,-407.28 L413.15,-411.08 L414.38,-414.90 L415.61,-418.74 L416.84,-422.61 L418.07,-426.49 L419.30,-430.40 L420.53,-434.33 L421.76,-438.28 L422.99,-442.25 L424.22,-446.24 L425.45,-450.26 L426.68,-454.29 L427.91,-458.35 L429.14,-462.43 L430.37,-466.53 L431.60,-470.66 L432.83,-474.80 L434.06,-478.97 L435.29,-483.16 L436.52,-487.37 L437.75,-491.61 L438.98,-495.87 L440.21,-500.14 L441.44,-504.45 L442.68,-508.77 L443.91,-513.12 L445.14,-517.49 L446.37,-521.88 L447.60,-526.30 L448.83,-530.73 L450.06,-535.19 L451.29,-539.68 L452.52,-544.19 L453.75,-548.72 L454.98,-553.27 L456.21,-557.85 L457.44,-562.45 L458.67,-567.07 L459.90,-571.72 L461.13,-576.39 L462.36,-581.08 L463.59,-585.80 L464.82,-590.54 L466.05,-595.30 L467.28,-600.09 L468.51,-604.91 L469.74,-609.74 L470.97,-614.60 L472.20,-619.49 L473.43,-624.40 L474.66,-629.33 L475.89,-634.29 L477.12,-639.27 L478.35,-644.28 L479.58,-649.31 L479.58,-340.00 L478.35,-337.24 L477.12,-334.49 L475.89,-331.76 L474.66,-329.03 L473.43,-326.32 L472.20,-323.62 L470.97,-320.93 L469.74,-318.25 L468.51,-315.59 L467.28,-312.93 L466.05,-310.29 L464.82,-307.66 L463.59,-305.04 L462.36,-302.43 L461.13,-299.83 L459.90,-297.25 L458.67,-294.67 L457.44,-292.11 L456.21,-289.56 L454.98,-287.02 L453.75,-284.49 L452.52,-281.97 L451.29,-279.46 L450.06,-276.96 L448.83,-274.48 L447.60,-272.01 L446.37,-269.54 L445.14,-267.09 L443.91,-264.65 L442.68,-262.22 L441.44,-259.81 L440.21,-257.40 L438.98,-255.00 L437.75,-252.62 L436.52,-250.24 L435.29,-247.88 L434.06,-245.53 L432.83,-243.19 L431.60,-240.86 L430.37,-238.54 L429.14,-236.23 L427.91,-233.93 L426.68,-231.64 L425.45,-229.37 L424.22,-227.10 L422.99,-224.85 L421.76,-222.60 L420.53,-220.37 L419.30,-218.14 L418.07,-215.93 L416.84,-213.73 L415.61,-211.54 L414.38,-209.36 L413.15,-207.19 L411.92,-205.03 L410.69,-202.88 L409.46,-200.74 L408.23,-198.61 L407.00,-196.50 L405.77,-194.39 L404.54,-192.29 L403.31,-190.21 L402.08,-188.13 L400.85,-186.06 L399.62,-184.01 L398.39,-181.96 L397.16,-179.93 L395.93,-177.90 L394.70,-175.89 L393.47,-173.89 L392.24,-171.89 L391.01,-169.91 L389.78,-167.93 L388.55,-165.97 L387.32,-164.02 L386.09,-162.07 L384.86,-160.14 L383.63,-158.22 L382.39,-156.30 L381.16,-154.40 L379.93,-152.51 L378.70,-150.62 L377.47,-148.75 L376.24,-146.89 L375.01,-145.03 L373.78,-143.19 L372.55,-141.35 L371.32,-139.53 L370.09,-137.71 L368.86,-135.91 L367.63,-134.11 L366.40,-132.33 L365.17,-130.55 L363.94,-128.79 L362.71,-127.03 L361.48,-125.28 L360.25,-123.55 L359.02,-121.82 L357.79,-120.10 L356.56,-118.39 L355.33,-116.69 L354.10,-115.00 L352.87,-113.32 L351.64,-111.65 L350.41,-109.99 L349.18,-108.34 L347.95,-106.70 L346.72,-105.06 L345.49,-103.44 L344.26,-101.83 L343.03,-100.22 L341.80,-98.62 L340.57,-97.04 L339.34,-95.46 L338.11,-93.89 L336.88,-92.33 L335.65,-90.78 L334.42,-89.24 L333.19,-87.71 L331.96,-86.19 L330.73,-84.68 L329.50,-83.17 L328.27,-81.68 L327.04,-80.19 L325.81,-78.71 L324.58,-77.24 L323.34,-75.79 L322.11,-74.34 L320.88,-72.89 L319.65,-71.46 L318.42,-70.04 L317.19,-68.62 L315.96,-67.22 L314.73,-65.82 L313.50,-64.43 L312.27,-63.05 L311.04,-61.68 L309.81,-60.32 L308.58,-58.96 L307.35,-57.62 L306.12,-56.28 L304.89,-54.95 L303.66,-53.64 L302.43,-52.32 L301.20,-51.02 L299.97,-49.73 L298.74,-48.44 L297.51,-47.17 L296.28,-45.90 L295.05,-44.64 L293.82,-43.39 L292.59,-42.15 L291.36,-40.91 L290.13,-39.69 L288.90,-38.47 L287.67,-37.26 L286.44,-36.06 L285.21,-34.87 L283.98,-33.68 L282.75,-32.50 L281.52,-31.34 L280.29,-30.18 L279.06,-29.02 L277.83,-27.88 L276.60,-26.75 L275.37,-25.62 L274.14,-24.50 L272.91,-23.39 L271.68,-22.28 L270.45,-21.19 L269.22,-20.10 L267.99,-19.02 L266.76,-17.95 L265.53,-16.89 L264.29,-15.83 L263.06,-14.78 L261.83,-13.74 L260.60,-12.71 L259.37,-11.69 L258.14,-10.67 L256.91,-9.66 L255.68,-8.66 L254.45,-7.67 L253.22,-6.68 L251.99,-5.71 L250.76,-4.73 L249.53,-3.77 L248.30,-2.82 L247.07,-1.87 L245.84,-0.93 L244.61,0.00 L243.38,0.93 L242.15,1.84 L240.92,2.75 L239.69,3.66 L238.46,4.55 L237.23,5.44 L236.00,6.32 L234.77,7.19 L233.54,8.06 L232.31,8.91 L231.08,9.76 L229.85,10.61 L228.62,11.44 L227.39,12.27 L226.16,13.09 L224.93,13.91 L223.70,14.72 L222.47,15.52 L221.24,16.31 L220.01,17.10 L218.78,17.87 L217.55,18.65 L216.32,19.41 L215.09,20.17 L213.86,20.92 L212.63,21.66 L211.40,22.40 L210.17,23.13 L208.94,23.85 L207.71,24.57 L206.48,25.28 L205.24,25.98 L204.01,26.67 L202.78,27.36 L201.55,28.05 L200.32,28.72 L199.09,29.39 L197.86,30.05 L196.63,30.71 L195.40,31.35 L194.17,32.00 L192.94,32.63 L191.71,33.26 L190.48,33.88 L189.25,34.50 L188.02,35.10 L186.79,35.71 L185.56,36.30 L184.33,36.89 L183.10,37.47 L181.87,38.05 L180.64,38.62 L179.41,39.18 L178.18,39.74 L176.95,40.29 L175.72,40.83 L174.49,41.37 L173.26,41.90 L172.03,42.42 L170.80,42.93 L169.57,43.43 L168.34,43.92 L167.11,44.40 L165.88,44.87 L164.65,45.33 L163.42,45.77 L162.19,46.21 L160.96,46.63 L159.73,47.04 L158.50,47.44 L157.27,47.83 L156.04,48.20 L154.81,48.56 L153.58,48.90 L152.35,49.23 L151.12,49.54 L149.89,49.83 L148.66,50.11 L147.43,50.38 L146.19,50.62 L144.96,50.85 L143.73,51.06 L142.50,51.26 L141.27,51.43 L140.04,51.59 L138.81,51.72 L137.58,51.84 L136.35,51.93 L135.12,52.01 L133.89,52.06 L132.66,52.10 L131.43,52.11 L130.20,52.10 L128.97,52.06 L127.74,52.01 L126.51,51.93 L125.28,51.82 L124.05,51.69 L122.82,51.54 L121.59,51.36 L120.36,51.16 L119.13,50.93 L117.90,50.67 L116.67,50.39 L115.44,50.08 L114.21,49.74 L112.98,49.37 L111.75,48.98 L110.52,48.56 L109.29,48.10 L108.06,47.62 L106.83,47.11 L105.60,46.56 L104.37,45.99 L103.14,45.38 L101.91,44.74 L100.68,44.07 L99.45,43.37 L98.22,42.63 L96.99,41.86 L95.76,41.05 L94.53,40.21 L93.30,39.34 L92.07,38.43 L90.84,37.48 L89.61,36.50 L88.38,35.48 L87.14,34.43 L85.91,33.35 L84.68,32.26 L83.45,31.14 L82.22,30.02 L80.99,28.89 L79.76,27.76 L78.53,26.63 L77.30,25.51 L76.07,24.41 L74.84,23.33 L73.61,22.26 L72.38,21.23 L71.15,20.23 L69.92,19.27 L68.69,18.35 L67.46,17.49 L66.23,16.67 L65.00,15.92 L63.77,15.22 L62.54,14.60 L61.31,14.05Z" fill="#b3bcc4"/>
<rect x="65.3" y="33.09" width="122.75000000000001" height="12.55" fill="#00ff00" fill-opacity="0.3"/>
<rect x="65.3" y="45.65" width="122.75000000000001" height="12.55" fill="#00ff00" fill-opacity="0.6"/>
<rect x="65.3" y="58.20" width="122.75000000000001" height="12.55" fill="#00ff00" fill-opacity="0.9"/>
<path d="M61.31,2.47 L62.54,3.67 L63.77,4.85 L65.00,6.04 L66.23,7.21 L67.46,8.38 L68.69,9.54 L69.92,10.70 L71.15,11.85 L72.38,12.98 L73.61,14.11 L74.84,15.23 L76.07,16.34 L77.30,17.44 L78.53,18.52 L79.76,19.60 L80.99,20.66 L82.22,21.71 L83.45,22.74 L84.68,23.76 L85.91,24.77 L87.14,25.76 L88.38,26.73 L89.61,27.69 L90.84,28.63 L92.07,29.55 L93.30,30.45 L94.53,31.34 L95.76,32.20 L96.99,33.05 L98.22,33.87 L99.45,34.68 L100.68,35.46 L101.91,36.22 L103.14,36.95 L104.37,37.67 L105.60,38.36 L106.83,39.02 L108.06,39.66 L109.29,40.28 L110.52,40.86 L111.75,41.43 L112.98,41.96 L114.21,42.47 L115.44,42.94 L116.67,43.39 L117.90,43.81 L119.13,44.20 L120.36,44.56 L121.59,44.89 L122.82,45.18 L124.05,45.45 L125.28,45.69 L126.51,45.89 L127.74,46.07 L128.97,46.23 L130.20,46.35 L131.43,46.44 L132.66,46.51 L133.89,46.56 L135.12,46.57 L136.35,46.56 L137.58,46.52 L138.81,46.46 L140.04,46.38 L141.27,46.27 L142.50,46.14 L143.73,45.98 L144.96,45.80 L146.19,45.60 L147.43,45.37 L148.66,45.13 L149.89,44.86 L151.12,44.57 L152.35,44.26 L153.58,43.93 L154.81,43.58 L156.04,43.21 L157.27,42.83 L158.50,42.42 L159.73,42.00 L160.96,41.55 L162.19,41.10 L163.42,40.62 L164.65,40.13 L165.88,39.62 L167.11,39.10 L168.34,38.56 L169.57,38.00 L170.80,37.44 L172.03,36.85 L173.26,36.26 L174.49,35.65 L175.72,35.03 L176.95,34.39 L178.18,33.75 L179.41,33.09 L180.64,32.42 L181.87,31.74 L183.10,31.05 L184.33,30.35 L185.56,29.64 L186.79,28.91 L188.02,28.18 L189.25,27.43 L190.48,26.68 L191.71,25.91 L192.94,25.13 L194.17,24.34 L195.40,23.54 L196.63,22.72 L197.86,21.90 L199.09,21.06 L200.32,20.21 L201.55,19.35 L202.78,18.48 L204.01,17.60 L205.24,16.71 L206.48,15.80 L207.71,14.89 L208.94,13.96 L210.17,13.02 L211.40,12.07 L212.63,11.10 L213.86,10.13 L215.09,9.14 L216.32,8.14 L217.55,7.13 L218.78,6.11 L220.01,5.08 L221.24,4.03 L222.47,2.97 L223.70,1.90 L224.93,0.82 L226.16,-0.27 L227.39,-1.38 L228.62,-2.50 L229.85,-3.63 L231.08,-4.77 L232.31,-5.92 L233.54,-7.09 L234.77,-8.27 L236.00,-9.46 L237.23,-10.66 L238.46,-11.88 L239.69,-13.10 L240.92,-14.34 L242.15,-15.60 L243.38,-16.86 L244.61,-18.14 L245.84,-19.43 L247.07,-20.73 L248.30,-22.04 L249.53,-23.37 L250.76,-24.71 L251.99,-26.06 L253.22,-27.43 L254.45,-28.80 L255.68,-30.20 L256.91,-31.60 L258.14,-33.01 L259.37,-34.44 L260.60,-35.88 L261.83,-37.34 L263.06,-38.80 L264.29,-40.28 L265.53,-41.77 L266.76,-43.28 L267.99,-44.80 L269.22,-46.33 L270.45,-47.87 L271.68,-49.43 L272.91,-51.00 L274.14,-52.59 L275.37,-54.18 L276.60,-55.79 L277.83,-57.41 L279.06,-59.05 L280.29,-60.70 L281.52,-62.36 L282.75,-64.04 L283.98,-65.73 L285.21,-67.43 L286.44,-69.14 L287.67,-70.87 L288.90,-72.62 L290.13,-74.37 L291.36,-76.14 L292.59,-77.93 L293.82,-79.72 L295.05,-81.53 L296.28,-83.36 L297.51,-85.19 L298.74,-87.04 L299.97,-88.91 L301.20,-90.79 L302.43,-92.68 L303.66,-94.58 L304.89,-96.50 L306.12,-98.44 L307.35,-100.38 L308.58,-102.35 L309.81,-104.32 L311.04,-106.31 L312.27,-108.31 L313.50,-110.33 L314.73,-112.36 L315.96,-114.40 L317.19,-116.46 L318.42,-118.54 L319.65,-120.62 L320.88,-122.72 L322.11,-124.84 L323.34,-126.97 L324.58,-129.11 L325.81,-131.27 L327.04,-133.44 L328.27,-135.63 L329.50,-137.83 L330.73,-140.05 L331.96,-142.28 L333.19,-144.52 L334.42,-146.78 L335.65,-149.05 L336.88,-151.34 L338.11,-153.64 L339.34,-155.95 L340.57,-158.28 L341.80,-160.63 L343.03,-162.98 L344.26,-165.35 L345.49,-167.73 L346.72,-170.13 L347.95,-172.54 L349.18,-174.96 L350.41,-177.40 L351.64,-179.85 L352.87,-182.31 L354.10,-184.78 L355.33,-187.27 L356.56,-189.77 L357.79,-192.28 L359.02,-194.80 L360.25,-197.34 L361.48,-199.89 L362.71,-202.44 L363.94,-205.02 L365.17,-207.60 L366.40,-210.19 L367.63,-212.80 L368.86,-215.42 L370.09,-218.04 L371.32,-220.68 L372.55,-223.33 L373.78,-226.00 L375.01,-228.67 L376.24,-231.35 L377.47,-234.05 L378.70,-236.75 L379.93,-239.46 L381.16,-242.19 L382.39,-244.92 L383.63,-247.67 L384.86,-250.42 L386.09,-253.19 L387.32,-255.96 L388.55,-258.75 L389.78,-261.54 L391.01,-264.34 L392.24,-267.16 L393.47,-269.98 L394.70,-272.81 L395.93,-275.65 L397.16,-278.50 L398.39,-281.35 L399.62,-284.22 L400.85,-287.09 L402.08,-289.98 L403.31,-292.87 L404.54,-295.77 L405.77,-298.67 L407.00,-301.59 L408.23,-304.51 L409.46,-307.44 L410.69,-310.38 L411.92,-313.33 L413.15,-316.28 L414.38,-319.24 L415.61,-322.21 L416.84,-325.19 L418.07,-328.17 L419.30,-331.16 L420.53,-334.16 L421.76,-337.16 L422.99,-340.17 L424.22,-343.19 L425.45,-346.21 L426.68,-349.24 L427.91,-352.27 L429.14,-355.31 L430.37,-358.36 L431.60,-361.41 L432.83,-364.47 L434.06,-367.53 L435.29,-370.60 L436.52,-373.68 L437.75,-376.76 L438.98,-379.84 L440.21,-382.93 L441.44,-386.03 L442.68,-389.13 L443.91,-392.23 L445.14,-395.34 L446.37,-398.46 L447.60,-401.58 L448.83,-404.70 L450.06,-407.83 L451.29,-410.96 L452.52,-414.09 L453.75,-417.23 L454.98,-420.38 L456.21,-423.52 L457.44,-426.67 L458.67,-429.83 L459.90,-432.98 L461.13,-436.14 L462.36,-439.31 L463.59,-442.47 L464.82,-445.64 L466.05,-448.81 L467.28,-451.99 L468.51,-455.17 L469.74,-458.34 L470.97,-461.53 L472.20,-464.71 L473.43,-467.90 L474.66,-471.09 L475.89,-474.28 L477.12,-477.47 L478.35,-480.66 L479.58,-483.86" fill="none" stroke="#000" stroke-width="1.0" stroke-dasharray="3.0,1.6"/>
</g>
<path d="M65.3,0.77 L65.3,70.75 L188.05,70.75 L188.05,0.77" fill="none" stroke="#222" stroke-width="0.65"/>
<line x1="80.64" x2="80.64" y1="70.75" y2="72.45" stroke="#222" stroke-width="0.65"/>
<text x="80.64" y="78.95" font-size="5.5" text-anchor="middle" fill="#000">0</text>
<line x1="111.33" x2="111.33" y1="70.75" y2="72.45" stroke="#222" stroke-width="0.65"/>
<text x="111.33" y="78.95" font-size="5.5" text-anchor="middle" fill="#000">10</text>
<line x1="142.02" x2="142.02" y1="70.75" y2="72.45" stroke="#222" stroke-width="0.65"/>
<text x="142.02" y="78.95" font-size="5.5" text-anchor="middle" fill="#000">20</text>
<line x1="172.71" x2="172.71" y1="70.75" y2="72.45" stroke="#222" stroke-width="0.65"/>
<text x="172.71" y="78.95" font-size="5.5" text-anchor="middle" fill="#000">30</text>
<line x1="63.599999999999994" x2="65.3" y1="70.75" y2="70.75" stroke="#222" stroke-width="0.65"/>
<text x="61.40" y="72.72" font-size="5.5" text-anchor="end" fill="#000">0.000</text>
<line x1="63.599999999999994" x2="65.3" y1="57.67" y2="57.67" stroke="#222" stroke-width="0.65"/>
<text x="61.40" y="59.64" font-size="5.5" text-anchor="end" fill="#000">0.025</text>
<line x1="63.599999999999994" x2="65.3" y1="44.60" y2="44.60" stroke="#222" stroke-width="0.65"/>
<text x="61.40" y="46.57" font-size="5.5" text-anchor="end" fill="#000">0.050</text>
<line x1="63.599999999999994" x2="65.3" y1="31.52" y2="31.52" stroke="#222" stroke-width="0.65"/>
<text x="61.40" y="33.49" font-size="5.5" text-anchor="end" fill="#000">0.075</text>
<line x1="63.599999999999994" x2="65.3" y1="18.45" y2="18.45" stroke="#222" stroke-width="0.65"/>
<text x="61.40" y="20.42" font-size="5.5" text-anchor="end" fill="#000">0.100</text>
<line x1="63.599999999999994" x2="65.3" y1="5.38" y2="5.38" stroke="#222" stroke-width="0.65"/>
<text x="61.40" y="7.34" font-size="5.5" text-anchor="end" fill="#000">0.125</text>
<rect x="267.6" y="34.2" width="70.59999999999997" height="11.299999999999997" rx="1.6" ry="1.6" fill="#c4c400" stroke="#c400c4" stroke-width="0.9"/>
<text x="302.90" y="41.95" font-size="7.0" text-anchor="middle" fill="#000">between c2 and c3</text>
</g>
</svg>
</body></html>
